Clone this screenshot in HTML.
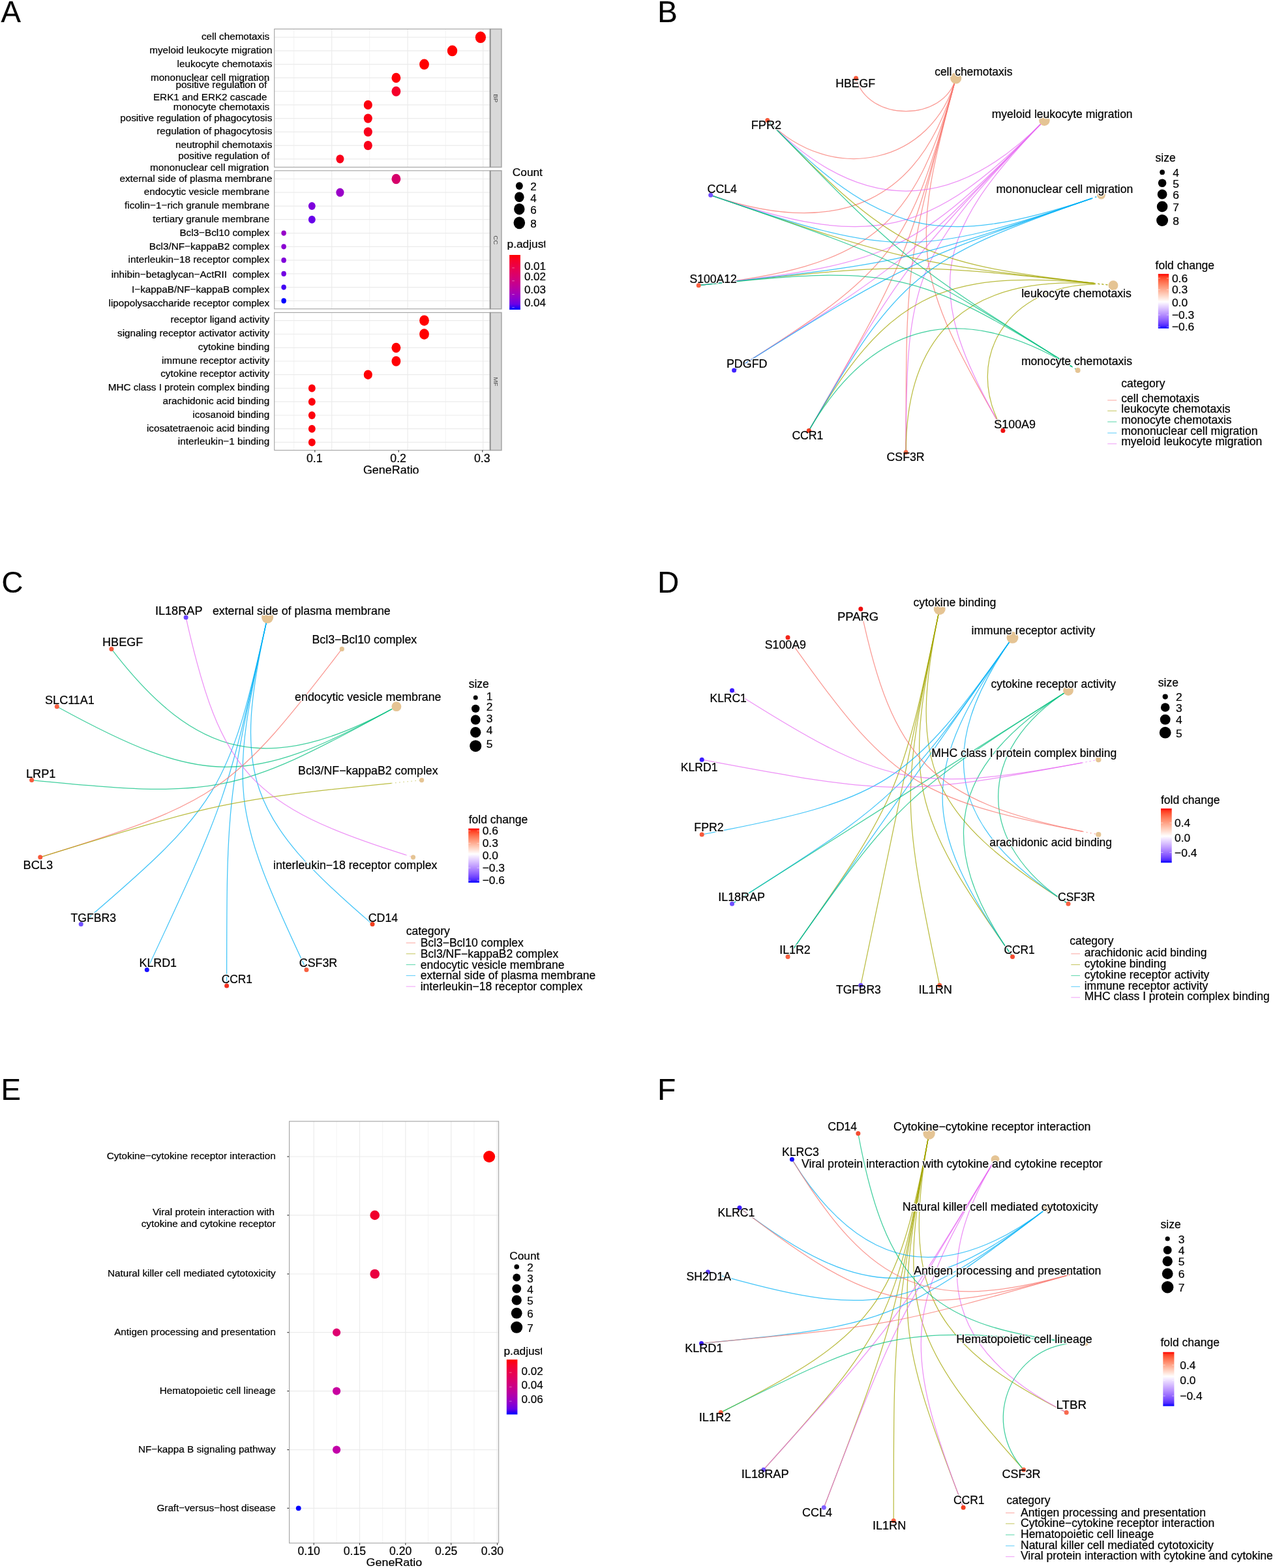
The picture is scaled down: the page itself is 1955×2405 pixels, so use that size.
<!DOCTYPE html>
<html><head><meta charset="utf-8"><title>Figure</title><style>html,body{margin:0;padding:0;background:#fff;}body{width:1955px;height:2405px;overflow:hidden;}svg{display:block;}</style></head><body>
<svg width="1955" height="2405" viewBox="0 0 1955 2405" font-family="'Liberation Sans', Arial, Helvetica, sans-serif"><style>text:not([stroke]):not([fill]){stroke:#000;stroke-width:0.22px;}</style><defs><clipPath id="clipA"><rect x="400" y="700" width="400" height="26.5"/></clipPath><clipPath id="clipE"><rect x="400" y="2380" width="400" height="25"/></clipPath><clipPath id="clipPadj1"><rect x="770" y="360" width="66.2" height="30"/></clipPath><clipPath id="clipPadj2"><rect x="765" y="2060" width="66" height="30"/></clipPath></defs><rect width="1955" height="2405" fill="#fff"/><text x="1.6" y="34.0" font-size="45.60">A</text>
<text x="1008.3" y="34.0" font-size="45.60">B</text>
<text x="2.4" y="908.8" font-size="45.60">C</text>
<text x="1008.3" y="908.8" font-size="45.60">D</text>
<text x="1.6" y="1687.4" font-size="45.60">E</text>
<text x="1008.3" y="1687.4" font-size="45.60">F</text>
<rect x="420.70" y="44.50" width="330.90" height="211.90" fill="#fff"/>
<line x1="450.70" y1="44.50" x2="450.70" y2="256.40" stroke="#f3f3f3" stroke-width="1.0"/>
<line x1="566.70" y1="44.50" x2="566.70" y2="256.40" stroke="#f3f3f3" stroke-width="1.0"/>
<line x1="683.20" y1="44.50" x2="683.20" y2="256.40" stroke="#f3f3f3" stroke-width="1.0"/>
<line x1="508.70" y1="44.50" x2="508.70" y2="256.40" stroke="#ebebeb" stroke-width="1.2"/>
<line x1="625.10" y1="44.50" x2="625.10" y2="256.40" stroke="#ebebeb" stroke-width="1.2"/>
<line x1="740.70" y1="44.50" x2="740.70" y2="256.40" stroke="#ebebeb" stroke-width="1.2"/>
<line x1="420.70" y1="57.20" x2="751.60" y2="57.20" stroke="#ebebeb" stroke-width="1.2"/>
<line x1="420.70" y1="77.90" x2="751.60" y2="77.90" stroke="#ebebeb" stroke-width="1.2"/>
<line x1="420.70" y1="98.70" x2="751.60" y2="98.70" stroke="#ebebeb" stroke-width="1.2"/>
<line x1="420.70" y1="119.40" x2="751.60" y2="119.40" stroke="#ebebeb" stroke-width="1.2"/>
<line x1="420.70" y1="140.10" x2="751.60" y2="140.10" stroke="#ebebeb" stroke-width="1.2"/>
<line x1="420.70" y1="160.90" x2="751.60" y2="160.90" stroke="#ebebeb" stroke-width="1.2"/>
<line x1="420.70" y1="181.60" x2="751.60" y2="181.60" stroke="#ebebeb" stroke-width="1.2"/>
<line x1="420.70" y1="202.40" x2="751.60" y2="202.40" stroke="#ebebeb" stroke-width="1.2"/>
<line x1="420.70" y1="223.10" x2="751.60" y2="223.10" stroke="#ebebeb" stroke-width="1.2"/>
<line x1="420.70" y1="243.80" x2="751.60" y2="243.80" stroke="#ebebeb" stroke-width="1.2"/>
<ellipse cx="736.9" cy="57.2" rx="8.10" ry="8.91" fill="#ff0000"/>
<ellipse cx="693.5" cy="77.9" rx="7.70" ry="8.47" fill="#ff0000"/>
<ellipse cx="650.5" cy="98.7" rx="7.40" ry="8.14" fill="#ff0000"/>
<ellipse cx="607.4" cy="119.4" rx="6.95" ry="7.65" fill="#ff0008"/>
<ellipse cx="607.4" cy="140.1" rx="6.95" ry="7.65" fill="#f5002a"/>
<ellipse cx="564.3" cy="160.9" rx="6.55" ry="7.21" fill="#fb000e"/>
<ellipse cx="564.3" cy="181.6" rx="6.55" ry="7.21" fill="#fb0012"/>
<ellipse cx="564.3" cy="202.4" rx="6.55" ry="7.21" fill="#f8001c"/>
<ellipse cx="564.3" cy="223.1" rx="6.55" ry="7.21" fill="#f9001a"/>
<ellipse cx="521.4" cy="243.8" rx="6.05" ry="6.66" fill="#f9001a"/>
<rect x="420.70" y="44.50" width="330.90" height="211.90" fill="none" stroke="#a3a3a3" stroke-width="1.1"/>
<rect x="751.60" y="44.50" width="17.30" height="211.90" fill="#d9d9d9" stroke="#a8a8a8" stroke-width="1.6"/>
<line x1="751.60" y1="44.50" x2="751.60" y2="256.40" stroke="#8a8a8a" stroke-width="1.6"/>
<text x="0" y="0" font-size="9.7" fill="#4d4d4d" text-anchor="middle" transform="translate(757.1,150.8) rotate(90)">BP</text>
<rect x="420.70" y="261.80" width="330.90" height="212.00" fill="#fff"/>
<line x1="450.70" y1="261.80" x2="450.70" y2="473.80" stroke="#f3f3f3" stroke-width="1.0"/>
<line x1="566.70" y1="261.80" x2="566.70" y2="473.80" stroke="#f3f3f3" stroke-width="1.0"/>
<line x1="683.20" y1="261.80" x2="683.20" y2="473.80" stroke="#f3f3f3" stroke-width="1.0"/>
<line x1="508.70" y1="261.80" x2="508.70" y2="473.80" stroke="#ebebeb" stroke-width="1.2"/>
<line x1="625.10" y1="261.80" x2="625.10" y2="473.80" stroke="#ebebeb" stroke-width="1.2"/>
<line x1="740.70" y1="261.80" x2="740.70" y2="473.80" stroke="#ebebeb" stroke-width="1.2"/>
<line x1="420.70" y1="274.50" x2="751.60" y2="274.50" stroke="#ebebeb" stroke-width="1.2"/>
<line x1="420.70" y1="295.20" x2="751.60" y2="295.20" stroke="#ebebeb" stroke-width="1.2"/>
<line x1="420.70" y1="316.10" x2="751.60" y2="316.10" stroke="#ebebeb" stroke-width="1.2"/>
<line x1="420.70" y1="336.70" x2="751.60" y2="336.70" stroke="#ebebeb" stroke-width="1.2"/>
<line x1="420.70" y1="357.60" x2="751.60" y2="357.60" stroke="#ebebeb" stroke-width="1.2"/>
<line x1="420.70" y1="378.30" x2="751.60" y2="378.30" stroke="#ebebeb" stroke-width="1.2"/>
<line x1="420.70" y1="399.20" x2="751.60" y2="399.20" stroke="#ebebeb" stroke-width="1.2"/>
<line x1="420.70" y1="419.90" x2="751.60" y2="419.90" stroke="#ebebeb" stroke-width="1.2"/>
<line x1="420.70" y1="440.60" x2="751.60" y2="440.60" stroke="#ebebeb" stroke-width="1.2"/>
<line x1="420.70" y1="461.40" x2="751.60" y2="461.40" stroke="#ebebeb" stroke-width="1.2"/>
<ellipse cx="607.4" cy="274.5" rx="6.95" ry="7.65" fill="#d6006a"/>
<ellipse cx="521.4" cy="295.2" rx="6.05" ry="6.66" fill="#9a00c8"/>
<ellipse cx="478.3" cy="316.1" rx="5.45" ry="6.00" fill="#7e00dc"/>
<ellipse cx="478.3" cy="336.7" rx="5.45" ry="6.00" fill="#6800ea"/>
<ellipse cx="435.1" cy="357.6" rx="3.75" ry="4.12" fill="#9600c8"/>
<ellipse cx="435.1" cy="378.3" rx="3.75" ry="4.12" fill="#8a00d2"/>
<ellipse cx="435.1" cy="399.2" rx="3.75" ry="4.12" fill="#8000da"/>
<ellipse cx="435.1" cy="419.9" rx="3.75" ry="4.12" fill="#7200e2"/>
<ellipse cx="435.1" cy="440.6" rx="3.75" ry="4.12" fill="#4200f4"/>
<ellipse cx="435.1" cy="461.4" rx="3.75" ry="4.12" fill="#0000ff"/>
<rect x="420.70" y="261.80" width="330.90" height="212.00" fill="none" stroke="#a3a3a3" stroke-width="1.1"/>
<rect x="751.60" y="261.80" width="17.30" height="212.00" fill="#d9d9d9" stroke="#a8a8a8" stroke-width="1.6"/>
<line x1="751.60" y1="261.80" x2="751.60" y2="473.80" stroke="#8a8a8a" stroke-width="1.6"/>
<text x="0" y="0" font-size="9.7" fill="#4d4d4d" text-anchor="middle" transform="translate(757.1,368.2) rotate(90)">CC</text>
<rect x="420.70" y="479.40" width="330.90" height="211.20" fill="#fff"/>
<line x1="450.70" y1="479.40" x2="450.70" y2="690.60" stroke="#f3f3f3" stroke-width="1.0"/>
<line x1="566.70" y1="479.40" x2="566.70" y2="690.60" stroke="#f3f3f3" stroke-width="1.0"/>
<line x1="683.20" y1="479.40" x2="683.20" y2="690.60" stroke="#f3f3f3" stroke-width="1.0"/>
<line x1="508.70" y1="479.40" x2="508.70" y2="690.60" stroke="#ebebeb" stroke-width="1.2"/>
<line x1="625.10" y1="479.40" x2="625.10" y2="690.60" stroke="#ebebeb" stroke-width="1.2"/>
<line x1="740.70" y1="479.40" x2="740.70" y2="690.60" stroke="#ebebeb" stroke-width="1.2"/>
<line x1="420.70" y1="491.60" x2="751.60" y2="491.60" stroke="#ebebeb" stroke-width="1.2"/>
<line x1="420.70" y1="512.50" x2="751.60" y2="512.50" stroke="#ebebeb" stroke-width="1.2"/>
<line x1="420.70" y1="533.30" x2="751.60" y2="533.30" stroke="#ebebeb" stroke-width="1.2"/>
<line x1="420.70" y1="554.00" x2="751.60" y2="554.00" stroke="#ebebeb" stroke-width="1.2"/>
<line x1="420.70" y1="574.70" x2="751.60" y2="574.70" stroke="#ebebeb" stroke-width="1.2"/>
<line x1="420.70" y1="595.50" x2="751.60" y2="595.50" stroke="#ebebeb" stroke-width="1.2"/>
<line x1="420.70" y1="616.20" x2="751.60" y2="616.20" stroke="#ebebeb" stroke-width="1.2"/>
<line x1="420.70" y1="637.00" x2="751.60" y2="637.00" stroke="#ebebeb" stroke-width="1.2"/>
<line x1="420.70" y1="657.70" x2="751.60" y2="657.70" stroke="#ebebeb" stroke-width="1.2"/>
<line x1="420.70" y1="678.40" x2="751.60" y2="678.40" stroke="#ebebeb" stroke-width="1.2"/>
<ellipse cx="650.5" cy="491.6" rx="7.40" ry="8.14" fill="#ff0000"/>
<ellipse cx="650.5" cy="512.5" rx="7.40" ry="8.14" fill="#ff0000"/>
<ellipse cx="607.4" cy="533.3" rx="6.95" ry="7.65" fill="#ff0000"/>
<ellipse cx="607.4" cy="554.0" rx="6.95" ry="7.65" fill="#ff0004"/>
<ellipse cx="564.3" cy="574.7" rx="6.55" ry="7.21" fill="#ff0004"/>
<ellipse cx="478.3" cy="595.5" rx="5.45" ry="6.00" fill="#fd000c"/>
<ellipse cx="478.3" cy="616.2" rx="5.45" ry="6.00" fill="#fd000c"/>
<ellipse cx="478.3" cy="637.0" rx="5.45" ry="6.00" fill="#fd000c"/>
<ellipse cx="478.3" cy="657.7" rx="5.45" ry="6.00" fill="#fd000c"/>
<ellipse cx="478.3" cy="678.4" rx="5.45" ry="6.00" fill="#fd000c"/>
<rect x="420.70" y="479.40" width="330.90" height="211.20" fill="none" stroke="#a3a3a3" stroke-width="1.1"/>
<rect x="751.60" y="479.40" width="17.30" height="211.20" fill="#d9d9d9" stroke="#a8a8a8" stroke-width="1.6"/>
<line x1="751.60" y1="479.40" x2="751.60" y2="690.60" stroke="#8a8a8a" stroke-width="1.6"/>
<text x="0" y="0" font-size="9.7" fill="#4d4d4d" text-anchor="middle" transform="translate(757.1,585.4) rotate(90)">MF</text>
<text x="413.2" y="61.3" font-size="15.25" text-anchor="end">cell chemotaxis</text>
<text x="417.4" y="82.0" font-size="15.25" text-anchor="end">myeloid leukocyte migration</text>
<text x="417.4" y="103.0" font-size="15.25" text-anchor="end">leukocyte chemotaxis</text>
<text x="413.2" y="123.7" font-size="15.25" text-anchor="end">mononuclear cell migration</text>
<text x="409.3" y="135.2" font-size="15.25" text-anchor="end">positive regulation of</text>
<text x="409.6" y="154.3" font-size="15.25" text-anchor="end">ERK1 and ERK2 cascade</text>
<text x="413.2" y="169.4" font-size="15.25" text-anchor="end">monocyte chemotaxis</text>
<text x="417.4" y="186.2" font-size="15.25" text-anchor="end">positive regulation of phagocytosis</text>
<text x="417.4" y="206.4" font-size="15.25" text-anchor="end">regulation of phagocytosis</text>
<text x="417.4" y="227.1" font-size="15.25" text-anchor="end">neutrophil chemotaxis</text>
<text x="413.2" y="243.7" font-size="15.25" text-anchor="end">positive regulation of</text>
<text x="412.3" y="262.4" font-size="15.25" text-anchor="end">mononuclear cell migration</text>
<text x="417.4" y="278.6" font-size="15.25" text-anchor="end">external side of plasma membrane</text>
<text x="413.2" y="299.3" font-size="15.25" text-anchor="end">endocytic vesicle membrane</text>
<text x="413.2" y="320.0" font-size="15.25" text-anchor="end">ficolin−1−rich granule membrane</text>
<text x="413.2" y="340.5" font-size="15.25" text-anchor="end">tertiary granule membrane</text>
<text x="413.2" y="361.5" font-size="15.25" text-anchor="end">Bcl3−Bcl10 complex</text>
<text x="413.2" y="382.5" font-size="15.25" text-anchor="end">Bcl3/NF−kappaB2 complex</text>
<text x="413.2" y="402.7" font-size="15.25" text-anchor="end">interleukin−18 receptor complex</text>
<text x="413.2" y="426.1" font-size="15.25" text-anchor="end">inhibin−betaglycan−ActRII  complex</text>
<text x="413.2" y="448.6" font-size="15.25" text-anchor="end">I−kappaB/NF−kappaB complex</text>
<text x="413.2" y="469.6" font-size="15.25" text-anchor="end">lipopolysaccharide receptor complex</text>
<text x="413.2" y="494.9" font-size="15.25" text-anchor="end">receptor ligand activity</text>
<text x="413.2" y="515.9" font-size="15.25" text-anchor="end">signaling receptor activator activity</text>
<text x="413.2" y="536.9" font-size="15.25" text-anchor="end">cytokine binding</text>
<text x="413.2" y="557.9" font-size="15.25" text-anchor="end">immune receptor activity</text>
<text x="413.2" y="578.1" font-size="15.25" text-anchor="end">cytokine receptor activity</text>
<text x="413.2" y="599.1" font-size="15.25" text-anchor="end">MHC class I protein complex binding</text>
<text x="413.2" y="620.1" font-size="15.25" text-anchor="end">arachidonic acid binding</text>
<text x="413.2" y="640.6" font-size="15.25" text-anchor="end">icosanoid binding</text>
<text x="413.2" y="661.6" font-size="15.25" text-anchor="end">icosatetraenoic acid binding</text>
<text x="413.2" y="682.3" font-size="15.25" text-anchor="end">interleukin−1 binding</text>
<line x1="482.80" y1="690.60" x2="482.80" y2="693.60" stroke="#333" stroke-width="1.1"/>
<text x="482.2" y="708.9" font-size="17.70" text-anchor="middle">0.1</text>
<line x1="611.20" y1="690.60" x2="611.20" y2="693.60" stroke="#333" stroke-width="1.1"/>
<text x="610.6" y="708.9" font-size="17.70" text-anchor="middle">0.2</text>
<line x1="739.80" y1="690.60" x2="739.80" y2="693.60" stroke="#333" stroke-width="1.1"/>
<text x="739.2" y="708.9" font-size="17.70" text-anchor="middle">0.3</text>
<g clip-path="url(#clipA)">
<text x="556.9" y="727.2" font-size="17.50" textLength="85.7" lengthAdjust="spacingAndGlyphs">GeneRatio</text>
</g>
<text x="785.8" y="269.8" font-size="17.30">Count</text>
<ellipse cx="796.3" cy="285.1" rx="5.50" ry="5.83" fill="#000"/>
<text x="813.3" y="292.1" font-size="17.00">2</text>
<ellipse cx="796.3" cy="302.3" rx="7.30" ry="7.74" fill="#000"/>
<text x="813.3" y="309.6" font-size="17.00">4</text>
<ellipse cx="796.3" cy="320.7" rx="8.20" ry="8.69" fill="#000"/>
<text x="813.3" y="327.8" font-size="17.00">6</text>
<ellipse cx="796.3" cy="341.8" rx="8.80" ry="9.33" fill="#000"/>
<text x="813.3" y="349.4" font-size="17.00">8</text>
<g clip-path="url(#clipPadj1)">
<text x="777.6" y="379.5" font-size="17.30">p.adjust</text>
</g>
<defs><linearGradient id="gPA" x1="0" y1="0" x2="0" y2="1"><stop offset="0.00" stop-color="#ff0000"/><stop offset="0.10" stop-color="#f6002a"/><stop offset="0.20" stop-color="#ed0044"/><stop offset="0.30" stop-color="#e3005b"/><stop offset="0.40" stop-color="#d70072"/><stop offset="0.50" stop-color="#ca0088"/><stop offset="0.60" stop-color="#ba009f"/><stop offset="0.70" stop-color="#a600b7"/><stop offset="0.80" stop-color="#8d00ce"/><stop offset="0.90" stop-color="#6800e7"/><stop offset="1.00" stop-color="#0000ff"/></linearGradient></defs>
<rect x="781.10" y="391.00" width="16.80" height="84.00" fill="url(#gPA)"/>
<line x1="785.20" y1="410.90" x2="788.80" y2="410.90" stroke="#ffffff" stroke-width="0.8" stroke-opacity="0.5"/>
<line x1="785.20" y1="430.80" x2="788.80" y2="430.80" stroke="#ffffff" stroke-width="0.8" stroke-opacity="0.5"/>
<line x1="785.20" y1="451.60" x2="788.80" y2="451.60" stroke="#ffffff" stroke-width="0.8" stroke-opacity="0.5"/>
<line x1="785.20" y1="471.50" x2="788.80" y2="471.50" stroke="#ffffff" stroke-width="0.8" stroke-opacity="0.5"/>
<text x="803.9" y="414.4" font-size="17.00">0.01</text>
<text x="803.9" y="429.6" font-size="17.00">0.02</text>
<text x="803.9" y="450.1" font-size="17.00">0.03</text>
<text x="803.9" y="470.0" font-size="17.00">0.04</text>
<rect x="443.60" y="1719.90" width="321.00" height="646.90" fill="#fff"/>
<line x1="516.10" y1="1719.90" x2="516.10" y2="2366.80" stroke="#f3f3f3" stroke-width="1.0"/>
<line x1="586.60" y1="1719.90" x2="586.60" y2="2366.80" stroke="#f3f3f3" stroke-width="1.0"/>
<line x1="656.60" y1="1719.90" x2="656.60" y2="2366.80" stroke="#f3f3f3" stroke-width="1.0"/>
<line x1="726.90" y1="1719.90" x2="726.90" y2="2366.80" stroke="#f3f3f3" stroke-width="1.0"/>
<line x1="481.20" y1="1719.90" x2="481.20" y2="2366.80" stroke="#ebebeb" stroke-width="1.2"/>
<line x1="551.50" y1="1719.90" x2="551.50" y2="2366.80" stroke="#ebebeb" stroke-width="1.2"/>
<line x1="621.80" y1="1719.90" x2="621.80" y2="2366.80" stroke="#ebebeb" stroke-width="1.2"/>
<line x1="691.70" y1="1719.90" x2="691.70" y2="2366.80" stroke="#ebebeb" stroke-width="1.2"/>
<line x1="762.50" y1="1719.90" x2="762.50" y2="2366.80" stroke="#ebebeb" stroke-width="1.2"/>
<line x1="443.60" y1="1774.00" x2="764.60" y2="1774.00" stroke="#ebebeb" stroke-width="1.2"/>
<line x1="440.30" y1="1774.00" x2="443.60" y2="1774.00" stroke="#333" stroke-width="1.1"/>
<line x1="443.60" y1="1863.90" x2="764.60" y2="1863.90" stroke="#ebebeb" stroke-width="1.2"/>
<line x1="440.30" y1="1863.90" x2="443.60" y2="1863.90" stroke="#333" stroke-width="1.1"/>
<line x1="443.60" y1="1954.00" x2="764.60" y2="1954.00" stroke="#ebebeb" stroke-width="1.2"/>
<line x1="440.30" y1="1954.00" x2="443.60" y2="1954.00" stroke="#333" stroke-width="1.1"/>
<line x1="443.60" y1="2043.70" x2="764.60" y2="2043.70" stroke="#ebebeb" stroke-width="1.2"/>
<line x1="440.30" y1="2043.70" x2="443.60" y2="2043.70" stroke="#333" stroke-width="1.1"/>
<line x1="443.60" y1="2133.60" x2="764.60" y2="2133.60" stroke="#ebebeb" stroke-width="1.2"/>
<line x1="440.30" y1="2133.60" x2="443.60" y2="2133.60" stroke="#333" stroke-width="1.1"/>
<line x1="443.60" y1="2223.60" x2="764.60" y2="2223.60" stroke="#ebebeb" stroke-width="1.2"/>
<line x1="440.30" y1="2223.60" x2="443.60" y2="2223.60" stroke="#333" stroke-width="1.1"/>
<line x1="443.60" y1="2313.30" x2="764.60" y2="2313.30" stroke="#ebebeb" stroke-width="1.2"/>
<line x1="440.30" y1="2313.30" x2="443.60" y2="2313.30" stroke="#333" stroke-width="1.1"/>
<circle cx="750.1" cy="1774.0" r="9.00" fill="#ff0000"/>
<circle cx="574.7" cy="1863.9" r="7.30" fill="#f0002c"/>
<circle cx="574.7" cy="1954.0" r="7.30" fill="#ea0040"/>
<circle cx="516.1" cy="2043.7" r="6.10" fill="#de0070"/>
<circle cx="516.1" cy="2133.6" r="6.10" fill="#c800a0"/>
<circle cx="516.1" cy="2223.6" r="6.10" fill="#c200a8"/>
<circle cx="457.7" cy="2313.3" r="3.90" fill="#0000ff"/>
<rect x="443.60" y="1719.90" width="321.00" height="646.90" fill="none" stroke="#a3a3a3" stroke-width="1.1"/>
<text x="422.7" y="1778.0" font-size="15.25" text-anchor="end">Cytokine−cytokine receptor interaction</text>
<text x="421.0" y="1864.0" font-size="15.25" text-anchor="end">Viral protein interaction with</text>
<text x="422.7" y="1882.2" font-size="15.25" text-anchor="end">cytokine and cytokine receptor</text>
<text x="422.7" y="1958.3" font-size="15.25" text-anchor="end">Natural killer cell mediated cytotoxicity</text>
<text x="422.7" y="2048.0" font-size="15.25" text-anchor="end">Antigen processing and presentation</text>
<text x="422.7" y="2137.9" font-size="15.25" text-anchor="end">Hematopoietic cell lineage</text>
<text x="422.7" y="2227.9" font-size="15.25" text-anchor="end">NF−kappa B signaling pathway</text>
<text x="422.7" y="2317.6" font-size="15.25" text-anchor="end">Graft−versus−host disease</text>
<line x1="481.20" y1="2366.80" x2="481.20" y2="2369.80" stroke="#333" stroke-width="1.1"/>
<text x="473.6" y="2385.3" font-size="17.60" text-anchor="middle">0.10</text>
<line x1="551.50" y1="2366.80" x2="551.50" y2="2369.80" stroke="#333" stroke-width="1.1"/>
<text x="543.9" y="2385.3" font-size="17.60" text-anchor="middle">0.15</text>
<line x1="621.80" y1="2366.80" x2="621.80" y2="2369.80" stroke="#333" stroke-width="1.1"/>
<text x="614.2" y="2385.3" font-size="17.60" text-anchor="middle">0.20</text>
<line x1="691.70" y1="2366.80" x2="691.70" y2="2369.80" stroke="#333" stroke-width="1.1"/>
<text x="684.1" y="2385.3" font-size="17.60" text-anchor="middle">0.25</text>
<line x1="762.50" y1="2366.80" x2="762.50" y2="2369.80" stroke="#333" stroke-width="1.1"/>
<text x="754.9" y="2385.3" font-size="17.60" text-anchor="middle">0.30</text>
<text x="561.6" y="2401.8" font-size="17.30" textLength="85.5" lengthAdjust="spacingAndGlyphs">GeneRatio</text>
<text x="781.2" y="1931.7" font-size="17.30">Count</text>
<circle cx="792.2" cy="1943.0" r="3.80" fill="#000"/>
<text x="808.3" y="1950.0" font-size="17.00">2</text>
<circle cx="792.2" cy="1959.5" r="5.90" fill="#000"/>
<text x="808.3" y="1966.7" font-size="17.00">3</text>
<circle cx="792.2" cy="1976.6" r="6.90" fill="#000"/>
<text x="808.3" y="1983.8" font-size="17.00">4</text>
<circle cx="792.2" cy="1994.2" r="7.60" fill="#000"/>
<text x="808.3" y="2001.4" font-size="17.00">5</text>
<circle cx="792.2" cy="2014.2" r="8.40" fill="#000"/>
<text x="808.3" y="2021.4" font-size="17.00">6</text>
<circle cx="792.2" cy="2035.8" r="9.00" fill="#000"/>
<text x="808.3" y="2043.0" font-size="17.00">7</text>
<g clip-path="url(#clipPadj2)">
<text x="772.5" y="2077.8" font-size="17.30">p.adjust</text>
</g>
<defs><linearGradient id="gPE" x1="0" y1="0" x2="0" y2="1"><stop offset="0.00" stop-color="#ff0000"/><stop offset="0.10" stop-color="#f6002a"/><stop offset="0.20" stop-color="#ed0044"/><stop offset="0.30" stop-color="#e3005b"/><stop offset="0.40" stop-color="#d70072"/><stop offset="0.50" stop-color="#ca0088"/><stop offset="0.60" stop-color="#ba009f"/><stop offset="0.70" stop-color="#a600b7"/><stop offset="0.80" stop-color="#8d00ce"/><stop offset="0.90" stop-color="#6800e7"/><stop offset="1.00" stop-color="#0000ff"/></linearGradient></defs>
<rect x="776.80" y="2085.30" width="16.60" height="84.20" fill="url(#gPE)"/>
<text x="799.5" y="2109.0" font-size="17.00">0.02</text>
<text x="799.5" y="2130.3" font-size="17.00">0.04</text>
<text x="799.5" y="2152.0" font-size="17.00">0.06</text>
<line x1="780.80" y1="2105.20" x2="784.60" y2="2105.20" stroke="#ffffff" stroke-width="0.8" stroke-opacity="0.5"/>
<line x1="780.80" y1="2127.30" x2="784.60" y2="2127.30" stroke="#ffffff" stroke-width="0.8" stroke-opacity="0.5"/>
<line x1="780.80" y1="2149.20" x2="784.60" y2="2149.20" stroke="#ffffff" stroke-width="0.8" stroke-opacity="0.5"/>
<path d="M1312.5,119.9 C1330.8,187.5 1447.4,187.5 1465.7,119.9" stroke="#F8766D" stroke-opacity="0.75" stroke-width="1.25" fill="none"/>
<path d="M1176.8,184.6 C1275.4,285.9 1430.1,251.3 1465.7,119.9" stroke="#F8766D" stroke-opacity="0.75" stroke-width="1.25" fill="none"/>
<path d="M1089.7,299.3 C1288.2,367.8 1414.9,307.4 1465.7,119.9" stroke="#F8766D" stroke-opacity="0.75" stroke-width="1.25" fill="none"/>
<path d="M1071.2,437.7 C1332.8,408.8 1402.7,352.6 1465.7,119.9" stroke="#F8766D" stroke-opacity="0.75" stroke-width="1.25" fill="none"/>
<path d="M1125.6,568.0 C1372.0,413.3 1394.1,384.2 1465.7,119.9" stroke="#F8766D" stroke-opacity="0.75" stroke-width="1.25" fill="none"/>
<path d="M1240.3,660.4 C1388.0,404.5 1389.7,400.5 1465.7,119.9" stroke="#F8766D" stroke-opacity="0.75" stroke-width="1.25" fill="none"/>
<path d="M1389.1,693.8 C1389.1,404.7 1389.7,400.5 1465.7,119.9" stroke="#F8766D" stroke-opacity="0.75" stroke-width="1.25" fill="none"/>
<path d="M1537.9,660.4 C1398.8,419.4 1394.1,384.2 1465.7,119.9" stroke="#F8766D" stroke-opacity="0.75" stroke-width="1.25" fill="none"/>
<path d="M1176.8,184.6 C1317.6,329.2 1460.6,329.2 1601.4,184.6" stroke="#E76BF3" stroke-opacity="0.75" stroke-width="1.25" fill="none"/>
<path d="M1089.7,299.3 C1336.1,384.3 1426.7,364.0 1601.4,184.6" stroke="#E76BF3" stroke-opacity="0.75" stroke-width="1.25" fill="none"/>
<path d="M1071.2,437.7 C1368.4,404.9 1402.9,388.4 1601.4,184.6" stroke="#E76BF3" stroke-opacity="0.75" stroke-width="1.25" fill="none"/>
<path d="M1125.6,568.0 C1387.2,403.8 1390.6,401.0 1601.4,184.6" stroke="#E76BF3" stroke-opacity="0.75" stroke-width="1.25" fill="none"/>
<path d="M1240.3,660.4 C1388.0,404.5 1390.6,401.0 1601.4,184.6" stroke="#E76BF3" stroke-opacity="0.75" stroke-width="1.25" fill="none"/>
<path d="M1389.1,693.8 C1389.1,421.5 1402.9,388.4 1601.4,184.6" stroke="#E76BF3" stroke-opacity="0.75" stroke-width="1.25" fill="none"/>
<path d="M1537.9,660.4 C1415.4,448.2 1426.7,364.0 1601.4,184.6" stroke="#E76BF3" stroke-opacity="0.75" stroke-width="1.25" fill="none"/>
<path d="M1176.8,184.6 C1368.8,381.8 1407.3,403.6 1678.8,434.5" stroke="#A3A500" stroke-opacity="0.75" stroke-width="1.25" fill="none"/>
<path d="M1678.8,434.5 C1687.9,435.6 1697.3,436.6 1707.0,437.7" stroke="#A3A500" stroke-opacity="0.45" stroke-width="1.25" stroke-dasharray="1.6 4.5" fill="none"/>
<path d="M1089.7,299.3 C1377.3,398.5 1390.8,402.7 1677.2,434.4" stroke="#A3A500" stroke-opacity="0.75" stroke-width="1.25" fill="none"/>
<path d="M1677.2,434.4 C1686.8,435.5 1696.7,436.6 1707.0,437.7" stroke="#A3A500" stroke-opacity="0.45" stroke-width="1.25" stroke-dasharray="1.6 4.5" fill="none"/>
<path d="M1071.2,437.7 C1376.5,404.0 1390.8,402.9 1677.2,434.4" stroke="#A3A500" stroke-opacity="0.75" stroke-width="1.25" fill="none"/>
<path d="M1677.2,434.4 C1686.8,435.5 1696.7,436.6 1707.0,437.7" stroke="#A3A500" stroke-opacity="0.45" stroke-width="1.25" stroke-dasharray="1.6 4.5" fill="none"/>
<path d="M1240.3,660.4 C1358.2,456.2 1439.1,412.0 1678.3,434.7" stroke="#A3A500" stroke-opacity="0.75" stroke-width="1.25" fill="none"/>
<path d="M1678.3,434.7 C1687.6,435.6 1697.2,436.6 1707.0,437.7" stroke="#A3A500" stroke-opacity="0.45" stroke-width="1.25" stroke-dasharray="1.6 4.5" fill="none"/>
<path d="M1389.1,693.8 C1389.1,509.9 1486.3,422.9 1677.6,435.1" stroke="#A3A500" stroke-opacity="0.75" stroke-width="1.25" fill="none"/>
<path d="M1677.6,435.1 C1687.2,435.7 1697.0,436.6 1707.0,437.7" stroke="#A3A500" stroke-opacity="0.45" stroke-width="1.25" stroke-dasharray="1.6 4.5" fill="none"/>
<path d="M1537.9,660.4 C1473.2,548.4 1548.2,436.9 1678.9,436.2" stroke="#A3A500" stroke-opacity="0.75" stroke-width="1.25" fill="none"/>
<path d="M1678.9,436.2 C1688.0,436.2 1697.4,436.6 1707.0,437.7" stroke="#A3A500" stroke-opacity="0.45" stroke-width="1.25" stroke-dasharray="1.6 4.5" fill="none"/>
<path d="M1176.8,184.6 C1348.0,360.4 1438.4,383.4 1673.9,304.3" stroke="#00B0F6" stroke-opacity="0.75" stroke-width="1.25" fill="none"/>
<path d="M1673.9,304.3 C1678.7,302.7 1683.6,301.0 1688.5,299.3" stroke="#00B0F6" stroke-opacity="0.45" stroke-width="1.25" stroke-dasharray="1.6 4.5" fill="none"/>
<path d="M1089.7,299.3 C1364.7,394.2 1407.1,395.9 1674.0,304.3" stroke="#00B0F6" stroke-opacity="0.75" stroke-width="1.25" fill="none"/>
<path d="M1674.0,304.3 C1678.8,302.7 1683.6,301.0 1688.5,299.3" stroke="#00B0F6" stroke-opacity="0.45" stroke-width="1.25" stroke-dasharray="1.6 4.5" fill="none"/>
<path d="M1071.2,437.7 C1381.3,403.5 1391.0,401.9 1673.2,304.6" stroke="#00B0F6" stroke-opacity="0.75" stroke-width="1.25" fill="none"/>
<path d="M1673.2,304.6 C1678.2,302.9 1683.3,301.1 1688.5,299.3" stroke="#00B0F6" stroke-opacity="0.45" stroke-width="1.25" stroke-dasharray="1.6 4.5" fill="none"/>
<path d="M1125.6,568.0 C1382.6,406.7 1391.1,402.0 1673.2,304.6" stroke="#00B0F6" stroke-opacity="0.75" stroke-width="1.25" fill="none"/>
<path d="M1673.2,304.6 C1678.2,302.9 1683.3,301.1 1688.5,299.3" stroke="#00B0F6" stroke-opacity="0.45" stroke-width="1.25" stroke-dasharray="1.6 4.5" fill="none"/>
<path d="M1240.3,660.4 C1377.0,423.6 1407.5,396.8 1674.0,304.3" stroke="#00B0F6" stroke-opacity="0.75" stroke-width="1.25" fill="none"/>
<path d="M1674.0,304.3 C1678.8,302.7 1683.6,301.0 1688.5,299.3" stroke="#00B0F6" stroke-opacity="0.45" stroke-width="1.25" stroke-dasharray="1.6 4.5" fill="none"/>
<path d="M1176.8,184.6 C1384.9,398.3 1390.9,403.7 1642.9,561.9" stroke="#00BF7D" stroke-opacity="0.75" stroke-width="1.25" fill="none"/>
<path d="M1642.9,561.9 C1646.1,563.9 1649.3,566.0 1652.6,568.0" stroke="#00BF7D" stroke-opacity="0.45" stroke-width="1.25" stroke-dasharray="1.6 4.5" fill="none"/>
<path d="M1089.7,299.3 C1383.2,400.6 1390.9,403.7 1642.9,561.9" stroke="#00BF7D" stroke-opacity="0.75" stroke-width="1.25" fill="none"/>
<path d="M1642.9,561.9 C1646.1,563.9 1649.3,566.0 1652.6,568.0" stroke="#00BF7D" stroke-opacity="0.45" stroke-width="1.25" stroke-dasharray="1.6 4.5" fill="none"/>
<path d="M1071.2,437.7 C1364.7,405.3 1405.2,413.1 1643.5,562.3" stroke="#00BF7D" stroke-opacity="0.75" stroke-width="1.25" fill="none"/>
<path d="M1643.5,562.3 C1646.5,564.2 1649.5,566.1 1652.6,568.0" stroke="#00BF7D" stroke-opacity="0.45" stroke-width="1.25" stroke-dasharray="1.6 4.5" fill="none"/>
<path d="M1240.3,660.4 C1337.2,492.5 1473.0,459.5 1643.5,562.4" stroke="#00BF7D" stroke-opacity="0.75" stroke-width="1.25" fill="none"/>
<path d="M1643.5,562.4 C1646.5,564.2 1649.6,566.1 1652.6,568.0" stroke="#00BF7D" stroke-opacity="0.45" stroke-width="1.25" stroke-dasharray="1.6 4.5" fill="none"/>
<circle cx="1465.7" cy="119.9" r="8.60" fill="#E5C494"/>
<circle cx="1707.0" cy="437.7" r="7.40" fill="#E5C494"/>
<circle cx="1652.6" cy="568.0" r="4.00" fill="#E5C494"/>
<circle cx="1688.5" cy="299.3" r="6.30" fill="#E5C494"/>
<circle cx="1601.4" cy="184.6" r="8.30" fill="#E5C494"/>
<text x="1281.3" y="133.6" font-size="17.50" textLength="60.8" lengthAdjust="spacingAndGlyphs" fill="#fff" stroke="#fff" stroke-width="2.6" stroke-linejoin="round">HBEGF</text>
<text x="1433.2" y="115.5" font-size="17.50" textLength="119.2" lengthAdjust="spacingAndGlyphs" fill="#fff" stroke="#fff" stroke-width="2.6" stroke-linejoin="round">cell chemotaxis</text>
<text x="1151.8" y="198.1" font-size="17.50" textLength="46.3" lengthAdjust="spacingAndGlyphs" fill="#fff" stroke="#fff" stroke-width="2.6" stroke-linejoin="round">FPR2</text>
<text x="1520.8" y="180.8" font-size="17.50" textLength="215.8" lengthAdjust="spacingAndGlyphs" fill="#fff" stroke="#fff" stroke-width="2.6" stroke-linejoin="round">myeloid leukocyte migration</text>
<text x="1084.6" y="295.7" font-size="17.50" textLength="45.3" lengthAdjust="spacingAndGlyphs" fill="#fff" stroke="#fff" stroke-width="2.6" stroke-linejoin="round">CCL4</text>
<text x="1527.5" y="295.7" font-size="17.50" textLength="209.8" lengthAdjust="spacingAndGlyphs" fill="#fff" stroke="#fff" stroke-width="2.6" stroke-linejoin="round">mononuclear cell migration</text>
<text x="1057.4" y="433.6" font-size="17.50" textLength="72.4" lengthAdjust="spacingAndGlyphs" fill="#fff" stroke="#fff" stroke-width="2.6" stroke-linejoin="round">S100A12</text>
<text x="1566.2" y="455.8" font-size="17.50" textLength="168.6" lengthAdjust="spacingAndGlyphs" fill="#fff" stroke="#fff" stroke-width="2.6" stroke-linejoin="round">leukocyte chemotaxis</text>
<text x="1113.9" y="563.9" font-size="17.50" textLength="62.6" lengthAdjust="spacingAndGlyphs" fill="#fff" stroke="#fff" stroke-width="2.6" stroke-linejoin="round">PDGFD</text>
<text x="1565.9" y="559.8" font-size="17.50" textLength="170.1" lengthAdjust="spacingAndGlyphs" fill="#fff" stroke="#fff" stroke-width="2.6" stroke-linejoin="round">monocyte chemotaxis</text>
<text x="1214.4" y="673.5" font-size="17.50" textLength="48.0" lengthAdjust="spacingAndGlyphs" fill="#fff" stroke="#fff" stroke-width="2.6" stroke-linejoin="round">CCR1</text>
<text x="1524.3" y="656.6" font-size="17.50" textLength="63.7" lengthAdjust="spacingAndGlyphs" fill="#fff" stroke="#fff" stroke-width="2.6" stroke-linejoin="round">S100A9</text>
<text x="1359.6" y="707.0" font-size="17.50" textLength="58.0" lengthAdjust="spacingAndGlyphs" fill="#fff" stroke="#fff" stroke-width="2.6" stroke-linejoin="round">CSF3R</text>
<circle cx="1312.5" cy="119.9" r="3.50" fill="#f65a3c"/>
<circle cx="1176.8" cy="184.6" r="3.50" fill="#f4583a"/>
<circle cx="1089.7" cy="299.3" r="3.50" fill="#7350ff"/>
<circle cx="1071.2" cy="437.7" r="3.50" fill="#fa6040"/>
<circle cx="1125.6" cy="568.0" r="3.50" fill="#3f22ff"/>
<circle cx="1240.3" cy="660.4" r="3.50" fill="#f03c22"/>
<circle cx="1389.1" cy="693.8" r="3.50" fill="#fa6a48"/>
<circle cx="1537.9" cy="660.4" r="3.50" fill="#f01010"/>
<text x="1281.3" y="133.6" font-size="17.50" textLength="60.8" lengthAdjust="spacingAndGlyphs">HBEGF</text>
<text x="1433.2" y="115.5" font-size="17.50" textLength="119.2" lengthAdjust="spacingAndGlyphs">cell chemotaxis</text>
<text x="1151.8" y="198.1" font-size="17.50" textLength="46.3" lengthAdjust="spacingAndGlyphs">FPR2</text>
<text x="1520.8" y="180.8" font-size="17.50" textLength="215.8" lengthAdjust="spacingAndGlyphs">myeloid leukocyte migration</text>
<text x="1084.6" y="295.7" font-size="17.50" textLength="45.3" lengthAdjust="spacingAndGlyphs">CCL4</text>
<text x="1527.5" y="295.7" font-size="17.50" textLength="209.8" lengthAdjust="spacingAndGlyphs">mononuclear cell migration</text>
<text x="1057.4" y="433.6" font-size="17.50" textLength="72.4" lengthAdjust="spacingAndGlyphs">S100A12</text>
<text x="1566.2" y="455.8" font-size="17.50" textLength="168.6" lengthAdjust="spacingAndGlyphs">leukocyte chemotaxis</text>
<text x="1113.9" y="563.9" font-size="17.50" textLength="62.6" lengthAdjust="spacingAndGlyphs">PDGFD</text>
<text x="1565.9" y="559.8" font-size="17.50" textLength="170.1" lengthAdjust="spacingAndGlyphs">monocyte chemotaxis</text>
<text x="1214.4" y="673.5" font-size="17.50" textLength="48.0" lengthAdjust="spacingAndGlyphs">CCR1</text>
<text x="1524.3" y="656.6" font-size="17.50" textLength="63.7" lengthAdjust="spacingAndGlyphs">S100A9</text>
<text x="1359.6" y="707.0" font-size="17.50" textLength="58.0" lengthAdjust="spacingAndGlyphs">CSF3R</text>
<path d="M124.2,1417.6 C336.7,1235.9 350.7,1212.8 410.1,947.1" stroke="#00B0F6" stroke-opacity="0.75" stroke-width="1.25" fill="none"/>
<path d="M225.3,1487.4 C346.9,1227.9 347.9,1225.0 410.1,947.1" stroke="#00B0F6" stroke-opacity="0.75" stroke-width="1.25" fill="none"/>
<path d="M347.6,1512.1 C347.6,1228.1 347.9,1225.0 410.1,947.1" stroke="#00B0F6" stroke-opacity="0.75" stroke-width="1.25" fill="none"/>
<path d="M469.9,1487.4 C353.6,1239.3 350.7,1212.8 410.1,947.1" stroke="#00B0F6" stroke-opacity="0.75" stroke-width="1.25" fill="none"/>
<path d="M571.0,1417.6 C377.5,1252.1 356.0,1189.1 410.1,947.1" stroke="#00B0F6" stroke-opacity="0.75" stroke-width="1.25" fill="none"/>
<path d="M170.9,995.4 C300.6,1165.0 411.7,1189.2 600.7,1087.6" stroke="#00BF7D" stroke-opacity="0.75" stroke-width="1.25" fill="none"/>
<path d="M600.7,1087.6 C603.1,1086.3 605.5,1085.0 607.9,1083.7" stroke="#00BF7D" stroke-opacity="0.45" stroke-width="1.25" stroke-dasharray="1.6 4.5" fill="none"/>
<path d="M87.3,1083.7 C309.9,1205.8 380.7,1207.3 599.5,1088.3" stroke="#00BF7D" stroke-opacity="0.75" stroke-width="1.25" fill="none"/>
<path d="M599.5,1088.3 C602.3,1086.8 605.1,1085.2 607.9,1083.7" stroke="#00BF7D" stroke-opacity="0.45" stroke-width="1.25" stroke-dasharray="1.6 4.5" fill="none"/>
<path d="M48.6,1196.6 C330.1,1224.8 359.8,1219.6 600.6,1087.7" stroke="#00BF7D" stroke-opacity="0.75" stroke-width="1.25" fill="none"/>
<path d="M600.6,1087.7 C603.0,1086.4 605.5,1085.1 607.9,1083.7" stroke="#00BF7D" stroke-opacity="0.45" stroke-width="1.25" stroke-dasharray="1.6 4.5" fill="none"/>
<path d="M61.7,1314.8 C333.6,1230.8 356.2,1215.2 524.3,995.4" stroke="#F8766D" stroke-opacity="0.75" stroke-width="1.25" fill="none"/>
<path d="M61.7,1314.8 C330.4,1231.8 348.0,1226.7 600.1,1201.3" stroke="#A3A500" stroke-opacity="0.75" stroke-width="1.25" fill="none"/>
<path d="M600.1,1201.3 C614.7,1199.8 630.2,1198.3 646.6,1196.6" stroke="#A3A500" stroke-opacity="0.45" stroke-width="1.25" stroke-dasharray="1.6 4.5" fill="none"/>
<path d="M285.1,947.1 C338.4,1185.4 384.5,1236.8 622.5,1311.3" stroke="#E76BF3" stroke-opacity="0.75" stroke-width="1.25" fill="none"/>
<path d="M622.5,1311.3 C626.1,1312.5 629.8,1313.6 633.5,1314.8" stroke="#E76BF3" stroke-opacity="0.45" stroke-width="1.25" stroke-dasharray="1.6 4.5" fill="none"/>
<circle cx="524.3" cy="995.4" r="3.60" fill="#E5C494"/>
<circle cx="646.6" cy="1196.6" r="3.60" fill="#E5C494"/>
<circle cx="607.9" cy="1083.7" r="7.40" fill="#E5C494"/>
<circle cx="410.1" cy="947.1" r="9.00" fill="#E5C494"/>
<circle cx="633.5" cy="1314.8" r="3.60" fill="#E5C494"/>
<text x="237.9" y="942.7" font-size="17.50" textLength="72.6" lengthAdjust="spacingAndGlyphs" fill="#fff" stroke="#fff" stroke-width="2.6" stroke-linejoin="round">IL18RAP</text>
<text x="325.9" y="942.7" font-size="17.50" textLength="272.8" lengthAdjust="spacingAndGlyphs" fill="#fff" stroke="#fff" stroke-width="2.6" stroke-linejoin="round">external side of plasma membrane</text>
<text x="157.1" y="991.1" font-size="17.50" textLength="62.1" lengthAdjust="spacingAndGlyphs" fill="#fff" stroke="#fff" stroke-width="2.6" stroke-linejoin="round">HBEGF</text>
<text x="478.4" y="987.1" font-size="17.50" textLength="160.9" lengthAdjust="spacingAndGlyphs" fill="#fff" stroke="#fff" stroke-width="2.6" stroke-linejoin="round">Bcl3−Bcl10 complex</text>
<text x="69.1" y="1079.8" font-size="17.50" textLength="75.8" lengthAdjust="spacingAndGlyphs" fill="#fff" stroke="#fff" stroke-width="2.6" stroke-linejoin="round">SLC11A1</text>
<text x="452.1" y="1075.0" font-size="17.50" textLength="224.4" lengthAdjust="spacingAndGlyphs" fill="#fff" stroke="#fff" stroke-width="2.6" stroke-linejoin="round">endocytic vesicle membrane</text>
<text x="40.0" y="1192.7" font-size="17.50" textLength="45.4" lengthAdjust="spacingAndGlyphs" fill="#fff" stroke="#fff" stroke-width="2.6" stroke-linejoin="round">LRP1</text>
<text x="457.1" y="1187.9" font-size="17.50" textLength="214.5" lengthAdjust="spacingAndGlyphs" fill="#fff" stroke="#fff" stroke-width="2.6" stroke-linejoin="round">Bcl3/NF−kappaB2 complex</text>
<text x="35.6" y="1332.7" font-size="17.50" textLength="45.5" lengthAdjust="spacingAndGlyphs" fill="#fff" stroke="#fff" stroke-width="2.6" stroke-linejoin="round">BCL3</text>
<text x="419.1" y="1332.7" font-size="17.50" textLength="251.3" lengthAdjust="spacingAndGlyphs" fill="#fff" stroke="#fff" stroke-width="2.6" stroke-linejoin="round">interleukin−18 receptor complex</text>
<text x="108.5" y="1413.7" font-size="17.50" textLength="69.5" lengthAdjust="spacingAndGlyphs" fill="#fff" stroke="#fff" stroke-width="2.6" stroke-linejoin="round">TGFBR3</text>
<text x="564.8" y="1413.7" font-size="17.50" textLength="45.4" lengthAdjust="spacingAndGlyphs" fill="#fff" stroke="#fff" stroke-width="2.6" stroke-linejoin="round">CD14</text>
<text x="213.5" y="1483.1" font-size="17.50" textLength="57.5" lengthAdjust="spacingAndGlyphs" fill="#fff" stroke="#fff" stroke-width="2.6" stroke-linejoin="round">KLRD1</text>
<text x="458.8" y="1483.1" font-size="17.50" textLength="58.4" lengthAdjust="spacingAndGlyphs" fill="#fff" stroke="#fff" stroke-width="2.6" stroke-linejoin="round">CSF3R</text>
<text x="339.8" y="1508.1" font-size="17.50" textLength="47.2" lengthAdjust="spacingAndGlyphs" fill="#fff" stroke="#fff" stroke-width="2.6" stroke-linejoin="round">CCR1</text>
<circle cx="285.1" cy="947.1" r="3.50" fill="#6a45ff"/>
<circle cx="170.9" cy="995.4" r="3.50" fill="#f65a3c"/>
<circle cx="87.3" cy="1083.7" r="3.50" fill="#f86040"/>
<circle cx="48.6" cy="1196.6" r="3.50" fill="#f65a3c"/>
<circle cx="61.7" cy="1314.8" r="3.50" fill="#f65838"/>
<circle cx="124.2" cy="1417.6" r="3.50" fill="#7050ff"/>
<circle cx="225.3" cy="1487.4" r="3.50" fill="#1a10ff"/>
<circle cx="347.6" cy="1512.1" r="3.50" fill="#f03020"/>
<circle cx="469.9" cy="1487.4" r="3.50" fill="#f86040"/>
<circle cx="571.0" cy="1417.6" r="3.50" fill="#f24020"/>
<text x="237.9" y="942.7" font-size="17.50" textLength="72.6" lengthAdjust="spacingAndGlyphs">IL18RAP</text>
<text x="325.9" y="942.7" font-size="17.50" textLength="272.8" lengthAdjust="spacingAndGlyphs">external side of plasma membrane</text>
<text x="157.1" y="991.1" font-size="17.50" textLength="62.1" lengthAdjust="spacingAndGlyphs">HBEGF</text>
<text x="478.4" y="987.1" font-size="17.50" textLength="160.9" lengthAdjust="spacingAndGlyphs">Bcl3−Bcl10 complex</text>
<text x="69.1" y="1079.8" font-size="17.50" textLength="75.8" lengthAdjust="spacingAndGlyphs">SLC11A1</text>
<text x="452.1" y="1075.0" font-size="17.50" textLength="224.4" lengthAdjust="spacingAndGlyphs">endocytic vesicle membrane</text>
<text x="40.0" y="1192.7" font-size="17.50" textLength="45.4" lengthAdjust="spacingAndGlyphs">LRP1</text>
<text x="457.1" y="1187.9" font-size="17.50" textLength="214.5" lengthAdjust="spacingAndGlyphs">Bcl3/NF−kappaB2 complex</text>
<text x="35.6" y="1332.7" font-size="17.50" textLength="45.5" lengthAdjust="spacingAndGlyphs">BCL3</text>
<text x="419.1" y="1332.7" font-size="17.50" textLength="251.3" lengthAdjust="spacingAndGlyphs">interleukin−18 receptor complex</text>
<text x="108.5" y="1413.7" font-size="17.50" textLength="69.5" lengthAdjust="spacingAndGlyphs">TGFBR3</text>
<text x="564.8" y="1413.7" font-size="17.50" textLength="45.4" lengthAdjust="spacingAndGlyphs">CD14</text>
<text x="213.5" y="1483.1" font-size="17.50" textLength="57.5" lengthAdjust="spacingAndGlyphs">KLRD1</text>
<text x="458.8" y="1483.1" font-size="17.50" textLength="58.4" lengthAdjust="spacingAndGlyphs">CSF3R</text>
<text x="339.8" y="1508.1" font-size="17.50" textLength="47.2" lengthAdjust="spacingAndGlyphs">CCR1</text>
<path d="M1208.0,1467.4 C1376.9,1227.3 1381.4,1217.1 1440.7,933.9" stroke="#A3A500" stroke-opacity="0.75" stroke-width="1.25" fill="none"/>
<path d="M1319.8,1511.3 C1380.2,1222.6 1380.2,1222.6 1440.7,933.9" stroke="#A3A500" stroke-opacity="0.75" stroke-width="1.25" fill="none"/>
<path d="M1440.7,1511.3 C1381.4,1228.1 1381.4,1217.1 1440.7,933.9" stroke="#A3A500" stroke-opacity="0.75" stroke-width="1.25" fill="none"/>
<path d="M1552.5,1467.4 C1393.4,1241.2 1384.9,1200.6 1440.7,933.9" stroke="#A3A500" stroke-opacity="0.75" stroke-width="1.25" fill="none"/>
<path d="M1638.0,1386.2 C1423.7,1250.2 1390.4,1173.9 1440.7,933.9" stroke="#A3A500" stroke-opacity="0.75" stroke-width="1.25" fill="none"/>
<path d="M1076.2,1280.0 C1357.1,1227.0 1393.4,1204.0 1552.5,977.8" stroke="#00B0F6" stroke-opacity="0.75" stroke-width="1.25" fill="none"/>
<path d="M1122.5,1386.2 C1375.3,1225.7 1383.6,1217.9 1552.5,977.8" stroke="#00B0F6" stroke-opacity="0.75" stroke-width="1.25" fill="none"/>
<path d="M1208.0,1467.4 C1380.2,1222.6 1380.2,1222.6 1552.5,977.8" stroke="#00B0F6" stroke-opacity="0.75" stroke-width="1.25" fill="none"/>
<path d="M1552.5,1467.4 C1409.3,1263.9 1409.3,1181.3 1552.5,977.8" stroke="#00B0F6" stroke-opacity="0.75" stroke-width="1.25" fill="none"/>
<path d="M1638.0,1386.2 C1455.7,1270.5 1430.7,1150.9 1552.5,977.8" stroke="#00B0F6" stroke-opacity="0.75" stroke-width="1.25" fill="none"/>
<path d="M1122.5,1386.2 C1380.2,1222.6 1380.2,1222.6 1638.0,1059.0" stroke="#00BF7D" stroke-opacity="0.75" stroke-width="1.25" fill="none"/>
<path d="M1208.0,1467.4 C1376.9,1227.3 1385.2,1219.5 1638.0,1059.0" stroke="#00BF7D" stroke-opacity="0.75" stroke-width="1.25" fill="none"/>
<path d="M1552.5,1467.4 C1430.7,1294.3 1455.7,1174.7 1638.0,1059.0" stroke="#00BF7D" stroke-opacity="0.75" stroke-width="1.25" fill="none"/>
<path d="M1638.0,1386.2 C1494.8,1295.3 1494.8,1149.9 1638.0,1059.0" stroke="#00BF7D" stroke-opacity="0.75" stroke-width="1.25" fill="none"/>
<path d="M1122.5,1059.0 C1353.5,1205.6 1400.7,1217.6 1659.6,1169.8" stroke="#E76BF3" stroke-opacity="0.75" stroke-width="1.25" fill="none"/>
<path d="M1659.6,1169.8 C1667.7,1168.3 1675.9,1166.8 1684.3,1165.2" stroke="#E76BF3" stroke-opacity="0.45" stroke-width="1.25" stroke-dasharray="1.6 4.5" fill="none"/>
<path d="M1076.2,1165.2 C1365.5,1219.8 1385.1,1221.4 1658.2,1170.1" stroke="#E76BF3" stroke-opacity="0.75" stroke-width="1.25" fill="none"/>
<path d="M1658.2,1170.1 C1666.7,1168.5 1675.3,1166.9 1684.3,1165.2" stroke="#E76BF3" stroke-opacity="0.45" stroke-width="1.25" stroke-dasharray="1.6 4.5" fill="none"/>
<path d="M1319.8,933.9 C1368.4,1166.1 1427.5,1228.3 1660.2,1275.3" stroke="#F8766D" stroke-opacity="0.75" stroke-width="1.25" fill="none"/>
<path d="M1660.2,1275.3 C1668.1,1276.9 1676.1,1278.5 1684.3,1280.0" stroke="#F8766D" stroke-opacity="0.45" stroke-width="1.25" stroke-dasharray="1.6 4.5" fill="none"/>
<path d="M1208.0,977.8 C1362.4,1197.2 1401.1,1225.4 1659.7,1275.3" stroke="#F8766D" stroke-opacity="0.75" stroke-width="1.25" fill="none"/>
<path d="M1659.7,1275.3 C1667.7,1276.9 1675.9,1278.4 1684.3,1280.0" stroke="#F8766D" stroke-opacity="0.45" stroke-width="1.25" stroke-dasharray="1.6 4.5" fill="none"/>
<circle cx="1684.3" cy="1280.0" r="4.10" fill="#E5C494"/>
<circle cx="1440.7" cy="933.9" r="9.00" fill="#E5C494"/>
<circle cx="1638.0" cy="1059.0" r="7.90" fill="#E5C494"/>
<circle cx="1552.5" cy="977.8" r="9.00" fill="#E5C494"/>
<circle cx="1684.3" cy="1165.2" r="4.10" fill="#E5C494"/>
<text x="1284.0" y="951.6" font-size="17.50" textLength="63.2" lengthAdjust="spacingAndGlyphs" fill="#fff" stroke="#fff" stroke-width="2.6" stroke-linejoin="round">PPARG</text>
<text x="1400.5" y="929.8" font-size="17.50" textLength="126.8" lengthAdjust="spacingAndGlyphs" fill="#fff" stroke="#fff" stroke-width="2.6" stroke-linejoin="round">cytokine binding</text>
<text x="1172.7" y="995.2" font-size="17.50" textLength="63.3" lengthAdjust="spacingAndGlyphs" fill="#fff" stroke="#fff" stroke-width="2.6" stroke-linejoin="round">S100A9</text>
<text x="1489.6" y="973.0" font-size="17.50" textLength="189.7" lengthAdjust="spacingAndGlyphs" fill="#fff" stroke="#fff" stroke-width="2.6" stroke-linejoin="round">immune receptor activity</text>
<text x="1088.5" y="1076.6" font-size="17.50" textLength="56.3" lengthAdjust="spacingAndGlyphs" fill="#fff" stroke="#fff" stroke-width="2.6" stroke-linejoin="round">KLRC1</text>
<text x="1519.4" y="1054.8" font-size="17.50" fill="#fff" stroke="#fff" stroke-width="2.6" stroke-linejoin="round">cytokine receptor activity</text>
<text x="1043.8" y="1182.7" font-size="17.50" textLength="56.6" lengthAdjust="spacingAndGlyphs" fill="#fff" stroke="#fff" stroke-width="2.6" stroke-linejoin="round">KLRD1</text>
<text x="1428.2" y="1161.3" font-size="17.50" fill="#fff" stroke="#fff" stroke-width="2.6" stroke-linejoin="round">MHC class I protein complex binding</text>
<text x="1064.3" y="1275.4" font-size="17.50" textLength="45.4" lengthAdjust="spacingAndGlyphs" fill="#fff" stroke="#fff" stroke-width="2.6" stroke-linejoin="round">FPR2</text>
<text x="1517.3" y="1298.4" font-size="17.50" fill="#fff" stroke="#fff" stroke-width="2.6" stroke-linejoin="round">arachidonic acid binding</text>
<text x="1101.2" y="1382.3" font-size="17.50" textLength="71.8" lengthAdjust="spacingAndGlyphs" fill="#fff" stroke="#fff" stroke-width="2.6" stroke-linejoin="round">IL18RAP</text>
<text x="1622.1" y="1382.3" font-size="17.50" textLength="57.1" lengthAdjust="spacingAndGlyphs" fill="#fff" stroke="#fff" stroke-width="2.6" stroke-linejoin="round">CSF3R</text>
<text x="1195.2" y="1462.9" font-size="17.50" textLength="47.6" lengthAdjust="spacingAndGlyphs" fill="#fff" stroke="#fff" stroke-width="2.6" stroke-linejoin="round">IL1R2</text>
<text x="1539.4" y="1462.9" font-size="17.50" textLength="47.2" lengthAdjust="spacingAndGlyphs" fill="#fff" stroke="#fff" stroke-width="2.6" stroke-linejoin="round">CCR1</text>
<text x="1282.0" y="1524.2" font-size="17.50" textLength="68.7" lengthAdjust="spacingAndGlyphs" fill="#fff" stroke="#fff" stroke-width="2.6" stroke-linejoin="round">TGFBR3</text>
<text x="1408.5" y="1524.2" font-size="17.50" textLength="51.4" lengthAdjust="spacingAndGlyphs" fill="#fff" stroke="#fff" stroke-width="2.6" stroke-linejoin="round">IL1RN</text>
<circle cx="1319.8" cy="933.9" r="3.50" fill="#ee0c0c"/>
<circle cx="1208.0" cy="977.8" r="3.50" fill="#f22418"/>
<circle cx="1122.5" cy="1059.0" r="3.50" fill="#3b1cff"/>
<circle cx="1076.2" cy="1165.2" r="3.50" fill="#3b1cff"/>
<circle cx="1076.2" cy="1280.0" r="3.50" fill="#f65a3c"/>
<circle cx="1122.5" cy="1386.2" r="3.50" fill="#7050ff"/>
<circle cx="1208.0" cy="1467.4" r="3.50" fill="#f86040"/>
<circle cx="1319.8" cy="1511.3" r="3.50" fill="#7050ff"/>
<circle cx="1440.7" cy="1511.3" r="3.50" fill="#f86040"/>
<circle cx="1552.5" cy="1467.4" r="3.50" fill="#f44c30"/>
<circle cx="1638.0" cy="1386.2" r="3.50" fill="#f86040"/>
<text x="1284.0" y="951.6" font-size="17.50" textLength="63.2" lengthAdjust="spacingAndGlyphs">PPARG</text>
<text x="1400.5" y="929.8" font-size="17.50" textLength="126.8" lengthAdjust="spacingAndGlyphs">cytokine binding</text>
<text x="1172.7" y="995.2" font-size="17.50" textLength="63.3" lengthAdjust="spacingAndGlyphs">S100A9</text>
<text x="1489.6" y="973.0" font-size="17.50" textLength="189.7" lengthAdjust="spacingAndGlyphs">immune receptor activity</text>
<text x="1088.5" y="1076.6" font-size="17.50" textLength="56.3" lengthAdjust="spacingAndGlyphs">KLRC1</text>
<text x="1519.4" y="1054.8" font-size="17.50">cytokine receptor activity</text>
<text x="1043.8" y="1182.7" font-size="17.50" textLength="56.6" lengthAdjust="spacingAndGlyphs">KLRD1</text>
<text x="1428.2" y="1161.3" font-size="17.50">MHC class I protein complex binding</text>
<text x="1064.3" y="1275.4" font-size="17.50" textLength="45.4" lengthAdjust="spacingAndGlyphs">FPR2</text>
<text x="1517.3" y="1298.4" font-size="17.50">arachidonic acid binding</text>
<text x="1101.2" y="1382.3" font-size="17.50" textLength="71.8" lengthAdjust="spacingAndGlyphs">IL18RAP</text>
<text x="1622.1" y="1382.3" font-size="17.50" textLength="57.1" lengthAdjust="spacingAndGlyphs">CSF3R</text>
<text x="1195.2" y="1462.9" font-size="17.50" textLength="47.6" lengthAdjust="spacingAndGlyphs">IL1R2</text>
<text x="1539.4" y="1462.9" font-size="17.50" textLength="47.2" lengthAdjust="spacingAndGlyphs">CCR1</text>
<text x="1282.0" y="1524.2" font-size="17.50" textLength="68.7" lengthAdjust="spacingAndGlyphs">TGFBR3</text>
<text x="1408.5" y="1524.2" font-size="17.50" textLength="51.4" lengthAdjust="spacingAndGlyphs">IL1RN</text>
<path d="M1105.2,2166.4 C1342.4,2046.9 1375.9,2002.0 1424.6,1738.5" stroke="#A3A500" stroke-opacity="0.75" stroke-width="1.25" fill="none"/>
<path d="M1170.8,2254.2 C1362.6,2041.3 1372.3,2021.7 1424.6,1738.5" stroke="#A3A500" stroke-opacity="0.75" stroke-width="1.25" fill="none"/>
<path d="M1263.3,2312.2 C1369.7,2034.1 1370.4,2031.6 1424.6,1738.5" stroke="#A3A500" stroke-opacity="0.75" stroke-width="1.25" fill="none"/>
<path d="M1370.2,2332.4 C1370.2,2034.2 1370.4,2031.6 1424.6,1738.5" stroke="#A3A500" stroke-opacity="0.75" stroke-width="1.25" fill="none"/>
<path d="M1477.1,2312.2 C1374.3,2043.6 1372.3,2021.7 1424.6,1738.5" stroke="#A3A500" stroke-opacity="0.75" stroke-width="1.25" fill="none"/>
<path d="M1569.6,2254.2 C1391.1,2056.1 1375.9,2002.0 1424.6,1738.5" stroke="#A3A500" stroke-opacity="0.75" stroke-width="1.25" fill="none"/>
<path d="M1635.2,2166.4 C1423.7,2059.9 1381.2,1973.4 1424.6,1738.5" stroke="#A3A500" stroke-opacity="0.75" stroke-width="1.25" fill="none"/>
<path d="M1170.8,2254.2 C1369.3,2033.8 1370.9,2031.8 1526.0,1778.3" stroke="#E76BF3" stroke-opacity="0.75" stroke-width="1.25" fill="none"/>
<path d="M1263.3,2312.2 C1369.7,2034.1 1370.9,2031.8 1526.0,1778.3" stroke="#E76BF3" stroke-opacity="0.75" stroke-width="1.25" fill="none"/>
<path d="M1477.1,2312.2 C1381.4,2062.2 1386.5,2006.2 1526.0,1778.3" stroke="#E76BF3" stroke-opacity="0.75" stroke-width="1.25" fill="none"/>
<path d="M1635.2,2166.4 C1456.7,2076.5 1421.0,1949.8 1526.0,1778.3" stroke="#E76BF3" stroke-opacity="0.75" stroke-width="1.25" fill="none"/>
<path d="M1214.4,1778.3 C1319.4,1949.8 1447.3,1974.0 1606.4,1852.4" stroke="#00B0F6" stroke-opacity="0.75" stroke-width="1.25" fill="none"/>
<path d="M1134.0,1852.4 C1322.5,1996.4 1417.9,1996.4 1606.4,1852.4" stroke="#00B0F6" stroke-opacity="0.75" stroke-width="1.25" fill="none"/>
<path d="M1085.5,1950.9 C1340.4,2024.3 1395.0,2014.0 1606.4,1852.4" stroke="#00B0F6" stroke-opacity="0.75" stroke-width="1.25" fill="none"/>
<path d="M1075.5,2060.5 C1358.9,2034.0 1379.2,2026.0 1606.4,1852.4" stroke="#00B0F6" stroke-opacity="0.75" stroke-width="1.25" fill="none"/>
<path d="M1214.4,1778.3 C1336.2,1977.4 1424.1,2014.9 1641.4,1954.7" stroke="#F8766D" stroke-opacity="0.75" stroke-width="1.25" fill="none"/>
<path d="M1641.4,1954.7 C1645.9,1953.5 1650.4,1952.2 1654.9,1950.9" stroke="#F8766D" stroke-opacity="0.45" stroke-width="1.25" stroke-dasharray="1.6 4.5" fill="none"/>
<path d="M1134.0,1852.4 C1341.7,2011.2 1398.1,2023.9 1641.7,1954.7" stroke="#F8766D" stroke-opacity="0.75" stroke-width="1.25" fill="none"/>
<path d="M1641.7,1954.7 C1646.0,1953.5 1650.4,1952.2 1654.9,1950.9" stroke="#F8766D" stroke-opacity="0.45" stroke-width="1.25" stroke-dasharray="1.6 4.5" fill="none"/>
<path d="M1075.5,2060.5 C1364.5,2033.4 1371.3,2032.6 1642.3,1954.6" stroke="#F8766D" stroke-opacity="0.75" stroke-width="1.25" fill="none"/>
<path d="M1642.3,1954.6 C1646.5,1953.4 1650.6,1952.2 1654.9,1950.9" stroke="#F8766D" stroke-opacity="0.45" stroke-width="1.25" stroke-dasharray="1.6 4.5" fill="none"/>
<path d="M1315.8,1738.5 C1357.3,1962.9 1423.4,2032.3 1634.2,2057.3" stroke="#00BF7D" stroke-opacity="0.75" stroke-width="1.25" fill="none"/>
<path d="M1634.2,2057.3 C1644.1,2058.5 1654.4,2059.5 1664.9,2060.5" stroke="#00BF7D" stroke-opacity="0.45" stroke-width="1.25" stroke-dasharray="1.6 4.5" fill="none"/>
<path d="M1105.2,2166.4 C1350.5,2042.8 1379.5,2034.4 1634.1,2057.7" stroke="#00BF7D" stroke-opacity="0.75" stroke-width="1.25" fill="none"/>
<path d="M1634.1,2057.7 C1644.0,2058.6 1654.3,2059.5 1664.9,2060.5" stroke="#00BF7D" stroke-opacity="0.45" stroke-width="1.25" stroke-dasharray="1.6 4.5" fill="none"/>
<path d="M1569.6,2254.2 C1504.8,2182.3 1547.6,2074.9 1634.5,2061.4" stroke="#00BF7D" stroke-opacity="0.75" stroke-width="1.25" fill="none"/>
<path d="M1634.5,2061.4 C1644.1,2059.9 1654.3,2059.5 1664.9,2060.5" stroke="#00BF7D" stroke-opacity="0.45" stroke-width="1.25" stroke-dasharray="1.6 4.5" fill="none"/>
<circle cx="1654.9" cy="1950.9" r="3.60" fill="#E5C494"/>
<circle cx="1424.6" cy="1738.5" r="9.20" fill="#E5C494"/>
<circle cx="1664.9" cy="2060.5" r="3.60" fill="#E5C494"/>
<circle cx="1606.4" cy="1852.4" r="6.40" fill="#E5C494"/>
<circle cx="1526.0" cy="1778.3" r="6.40" fill="#E5C494"/>
<text x="1269.3" y="1733.5" font-size="17.50" textLength="44.8" lengthAdjust="spacingAndGlyphs" fill="#fff" stroke="#fff" stroke-width="2.6" stroke-linejoin="round">CD14</text>
<text x="1370.1" y="1733.5" font-size="17.50" textLength="302.4" lengthAdjust="spacingAndGlyphs" fill="#fff" stroke="#fff" stroke-width="2.6" stroke-linejoin="round">Cytokine−cytokine receptor interaction</text>
<text x="1199.0" y="1773.1" font-size="17.50" textLength="56.8" lengthAdjust="spacingAndGlyphs" fill="#fff" stroke="#fff" stroke-width="2.6" stroke-linejoin="round">KLRC3</text>
<text x="1229.0" y="1791.2" font-size="17.50" textLength="461.5" lengthAdjust="spacingAndGlyphs" fill="#fff" stroke="#fff" stroke-width="2.6" stroke-linejoin="round">Viral protein interaction with cytokine and cytokine receptor</text>
<text x="1100.6" y="1865.8" font-size="17.50" textLength="56.7" lengthAdjust="spacingAndGlyphs" fill="#fff" stroke="#fff" stroke-width="2.6" stroke-linejoin="round">KLRC1</text>
<text x="1383.7" y="1856.9" font-size="17.50" textLength="299.9" lengthAdjust="spacingAndGlyphs" fill="#fff" stroke="#fff" stroke-width="2.6" stroke-linejoin="round">Natural killer cell mediated cytotoxicity</text>
<text x="1052.5" y="1963.8" font-size="17.50" textLength="68.5" lengthAdjust="spacingAndGlyphs" fill="#fff" stroke="#fff" stroke-width="2.6" stroke-linejoin="round">SH2D1A</text>
<text x="1401.2" y="1955.3" font-size="17.50" textLength="287.2" lengthAdjust="spacingAndGlyphs" fill="#fff" stroke="#fff" stroke-width="2.6" stroke-linejoin="round">Antigen processing and presentation</text>
<text x="1050.2" y="2073.5" font-size="17.50" textLength="58.3" lengthAdjust="spacingAndGlyphs" fill="#fff" stroke="#fff" stroke-width="2.6" stroke-linejoin="round">KLRD1</text>
<text x="1466.3" y="2060.2" font-size="17.50" textLength="208.5" lengthAdjust="spacingAndGlyphs" fill="#fff" stroke="#fff" stroke-width="2.6" stroke-linejoin="round">Hematopoietic cell lineage</text>
<text x="1071.7" y="2179.5" font-size="17.50" textLength="48.9" lengthAdjust="spacingAndGlyphs" fill="#fff" stroke="#fff" stroke-width="2.6" stroke-linejoin="round">IL1R2</text>
<text x="1619.5" y="2161.4" font-size="17.50" textLength="46.6" lengthAdjust="spacingAndGlyphs" fill="#fff" stroke="#fff" stroke-width="2.6" stroke-linejoin="round">LTBR</text>
<text x="1136.7" y="2267.0" font-size="17.50" textLength="73.0" lengthAdjust="spacingAndGlyphs" fill="#fff" stroke="#fff" stroke-width="2.6" stroke-linejoin="round">IL18RAP</text>
<text x="1536.6" y="2267.0" font-size="17.50" textLength="58.9" lengthAdjust="spacingAndGlyphs" fill="#fff" stroke="#fff" stroke-width="2.6" stroke-linejoin="round">CSF3R</text>
<text x="1230.1" y="2325.5" font-size="17.50" textLength="45.8" lengthAdjust="spacingAndGlyphs" fill="#fff" stroke="#fff" stroke-width="2.6" stroke-linejoin="round">CCL4</text>
<text x="1462.0" y="2307.3" font-size="17.50" textLength="47.6" lengthAdjust="spacingAndGlyphs" fill="#fff" stroke="#fff" stroke-width="2.6" stroke-linejoin="round">CCR1</text>
<text x="1337.9" y="2345.6" font-size="17.50" textLength="51.4" lengthAdjust="spacingAndGlyphs" fill="#fff" stroke="#fff" stroke-width="2.6" stroke-linejoin="round">IL1RN</text>
<circle cx="1315.8" cy="1738.5" r="3.50" fill="#f44c30"/>
<circle cx="1214.4" cy="1778.3" r="3.50" fill="#1a10ff"/>
<circle cx="1134.0" cy="1852.4" r="3.50" fill="#3b1cff"/>
<circle cx="1085.5" cy="1950.9" r="3.50" fill="#6040ff"/>
<circle cx="1075.5" cy="2060.5" r="3.50" fill="#3b1cff"/>
<circle cx="1105.2" cy="2166.4" r="3.50" fill="#f86040"/>
<circle cx="1170.8" cy="2254.2" r="3.50" fill="#7050ff"/>
<circle cx="1263.3" cy="2312.2" r="3.50" fill="#8060ff"/>
<circle cx="1370.2" cy="2332.4" r="3.50" fill="#f86040"/>
<circle cx="1477.1" cy="2312.2" r="3.50" fill="#f44020"/>
<circle cx="1569.6" cy="2254.2" r="3.50" fill="#f86040"/>
<circle cx="1635.2" cy="2166.4" r="3.50" fill="#f86a50"/>
<text x="1269.3" y="1733.5" font-size="17.50" textLength="44.8" lengthAdjust="spacingAndGlyphs">CD14</text>
<text x="1370.1" y="1733.5" font-size="17.50" textLength="302.4" lengthAdjust="spacingAndGlyphs">Cytokine−cytokine receptor interaction</text>
<text x="1199.0" y="1773.1" font-size="17.50" textLength="56.8" lengthAdjust="spacingAndGlyphs">KLRC3</text>
<text x="1229.0" y="1791.2" font-size="17.50" textLength="461.5" lengthAdjust="spacingAndGlyphs">Viral protein interaction with cytokine and cytokine receptor</text>
<text x="1100.6" y="1865.8" font-size="17.50" textLength="56.7" lengthAdjust="spacingAndGlyphs">KLRC1</text>
<text x="1383.7" y="1856.9" font-size="17.50" textLength="299.9" lengthAdjust="spacingAndGlyphs">Natural killer cell mediated cytotoxicity</text>
<text x="1052.5" y="1963.8" font-size="17.50" textLength="68.5" lengthAdjust="spacingAndGlyphs">SH2D1A</text>
<text x="1401.2" y="1955.3" font-size="17.50" textLength="287.2" lengthAdjust="spacingAndGlyphs">Antigen processing and presentation</text>
<text x="1050.2" y="2073.5" font-size="17.50" textLength="58.3" lengthAdjust="spacingAndGlyphs">KLRD1</text>
<text x="1466.3" y="2060.2" font-size="17.50" textLength="208.5" lengthAdjust="spacingAndGlyphs">Hematopoietic cell lineage</text>
<text x="1071.7" y="2179.5" font-size="17.50" textLength="48.9" lengthAdjust="spacingAndGlyphs">IL1R2</text>
<text x="1619.5" y="2161.4" font-size="17.50" textLength="46.6" lengthAdjust="spacingAndGlyphs">LTBR</text>
<text x="1136.7" y="2267.0" font-size="17.50" textLength="73.0" lengthAdjust="spacingAndGlyphs">IL18RAP</text>
<text x="1536.6" y="2267.0" font-size="17.50" textLength="58.9" lengthAdjust="spacingAndGlyphs">CSF3R</text>
<text x="1230.1" y="2325.5" font-size="17.50" textLength="45.8" lengthAdjust="spacingAndGlyphs">CCL4</text>
<text x="1462.0" y="2307.3" font-size="17.50" textLength="47.6" lengthAdjust="spacingAndGlyphs">CCR1</text>
<text x="1337.9" y="2345.6" font-size="17.50" textLength="51.4" lengthAdjust="spacingAndGlyphs">IL1RN</text>
<text x="1771.6" y="248.1" font-size="17.50">size</text>
<circle cx="1782.1" cy="264.2" r="3.90" fill="#000"/>
<text x="1798.3" y="271.3" font-size="17.40">4</text>
<circle cx="1782.1" cy="280.7" r="6.30" fill="#000"/>
<text x="1798.3" y="288.1" font-size="17.40">5</text>
<circle cx="1782.1" cy="298.0" r="7.40" fill="#000"/>
<text x="1798.3" y="305.0" font-size="17.40">6</text>
<circle cx="1782.1" cy="316.9" r="8.30" fill="#000"/>
<text x="1798.3" y="323.9" font-size="17.40">7</text>
<circle cx="1782.1" cy="338.0" r="9.00" fill="#000"/>
<text x="1798.3" y="344.7" font-size="17.40">8</text>
<text x="1771.6" y="413.1" font-size="17.50">fold change</text>
<defs><linearGradient id="gB" x1="0" y1="0" x2="0" y2="1"><stop offset="0.0000" stop-color="#ff0000"/><stop offset="0.0510" stop-color="#ff3e22"/><stop offset="0.1020" stop-color="#ff5b3a"/><stop offset="0.1530" stop-color="#ff7352"/><stop offset="0.2040" stop-color="#ff8969"/><stop offset="0.2550" stop-color="#ff9e81"/><stop offset="0.3060" stop-color="#ffb299"/><stop offset="0.3570" stop-color="#ffc6b2"/><stop offset="0.4080" stop-color="#ffd9cb"/><stop offset="0.4590" stop-color="#ffece5"/><stop offset="0.5100" stop-color="#ffffff"/><stop offset="0.5590" stop-color="#f2e7ff"/><stop offset="0.6080" stop-color="#e3d0ff"/><stop offset="0.6570" stop-color="#d4b9ff"/><stop offset="0.7060" stop-color="#c4a2ff"/><stop offset="0.7550" stop-color="#b38bff"/><stop offset="0.8040" stop-color="#a074ff"/><stop offset="0.8530" stop-color="#8a5dff"/><stop offset="0.9020" stop-color="#7145ff"/><stop offset="0.9510" stop-color="#502bff"/><stop offset="1.0000" stop-color="#0000ff"/></linearGradient></defs>
<rect x="1775.80" y="420.10" width="16.40" height="83.60" fill="url(#gB)"/>
<text x="1796.9" y="432.8" font-size="17.40">0.6</text>
<line x1="1775.80" y1="426.80" x2="1779.08" y2="426.80" stroke="#fff" stroke-width="0.8" stroke-opacity="0.6"/>
<line x1="1788.92" y1="426.80" x2="1792.20" y2="426.80" stroke="#fff" stroke-width="0.8" stroke-opacity="0.6"/>
<text x="1796.9" y="450.3" font-size="17.40">0.3</text>
<line x1="1775.80" y1="444.30" x2="1779.08" y2="444.30" stroke="#fff" stroke-width="0.8" stroke-opacity="0.6"/>
<line x1="1788.92" y1="444.30" x2="1792.20" y2="444.30" stroke="#fff" stroke-width="0.8" stroke-opacity="0.6"/>
<text x="1796.9" y="470.0" font-size="17.40">0.0</text>
<line x1="1775.80" y1="464.00" x2="1779.08" y2="464.00" stroke="#fff" stroke-width="0.8" stroke-opacity="0.6"/>
<line x1="1788.92" y1="464.00" x2="1792.20" y2="464.00" stroke="#fff" stroke-width="0.8" stroke-opacity="0.6"/>
<text x="1796.9" y="489.0" font-size="17.40">−0.3</text>
<line x1="1775.80" y1="483.00" x2="1779.08" y2="483.00" stroke="#fff" stroke-width="0.8" stroke-opacity="0.6"/>
<line x1="1788.92" y1="483.00" x2="1792.20" y2="483.00" stroke="#fff" stroke-width="0.8" stroke-opacity="0.6"/>
<text x="1796.9" y="507.2" font-size="17.40">−0.6</text>
<line x1="1775.80" y1="501.20" x2="1779.08" y2="501.20" stroke="#fff" stroke-width="0.8" stroke-opacity="0.6"/>
<line x1="1788.92" y1="501.20" x2="1792.20" y2="501.20" stroke="#fff" stroke-width="0.8" stroke-opacity="0.6"/>
<text x="1719.3" y="594.1" font-size="17.50">category</text>
<line x1="1698.20" y1="613.90" x2="1712.20" y2="613.90" stroke="#F8766D" stroke-width="1.1" stroke-opacity="0.6"/>
<text x="1719.3" y="616.7" font-size="17.50">cell chemotaxis</text>
<line x1="1698.20" y1="630.20" x2="1712.20" y2="630.20" stroke="#A3A500" stroke-width="1.1" stroke-opacity="0.6"/>
<text x="1719.3" y="633.2" font-size="17.50">leukocyte chemotaxis</text>
<line x1="1698.20" y1="647.00" x2="1712.20" y2="647.00" stroke="#00BF7D" stroke-width="1.1" stroke-opacity="0.6"/>
<text x="1719.3" y="650.3" font-size="17.50">monocyte chemotaxis</text>
<line x1="1698.20" y1="664.10" x2="1712.20" y2="664.10" stroke="#00B0F6" stroke-width="1.1" stroke-opacity="0.6"/>
<text x="1719.3" y="666.9" font-size="17.50">mononuclear cell migration</text>
<line x1="1698.20" y1="680.70" x2="1712.20" y2="680.70" stroke="#E76BF3" stroke-width="1.1" stroke-opacity="0.6"/>
<text x="1719.3" y="683.2" font-size="17.50">myeloid leukocyte migration</text>
<text x="718.7" y="1055.3" font-size="17.50">size</text>
<circle cx="729.2" cy="1070.1" r="3.50" fill="#000"/>
<text x="745.7" y="1073.7" font-size="17.40">1</text>
<circle cx="729.2" cy="1086.9" r="6.20" fill="#000"/>
<text x="745.7" y="1090.4" font-size="17.40">2</text>
<circle cx="729.2" cy="1104.0" r="7.40" fill="#000"/>
<text x="745.7" y="1107.6" font-size="17.40">3</text>
<circle cx="729.2" cy="1123.2" r="8.20" fill="#000"/>
<text x="745.7" y="1125.8" font-size="17.40">4</text>
<circle cx="729.2" cy="1144.2" r="9.00" fill="#000"/>
<text x="745.7" y="1147.3" font-size="17.40">5</text>
<text x="718.7" y="1263.1" font-size="17.50">fold change</text>
<defs><linearGradient id="gC" x1="0" y1="0" x2="0" y2="1"><stop offset="0.0000" stop-color="#ff0000"/><stop offset="0.0470" stop-color="#ff3e22"/><stop offset="0.0940" stop-color="#ff5b3a"/><stop offset="0.1410" stop-color="#ff7352"/><stop offset="0.1880" stop-color="#ff8969"/><stop offset="0.2350" stop-color="#ff9e81"/><stop offset="0.2820" stop-color="#ffb299"/><stop offset="0.3290" stop-color="#ffc6b2"/><stop offset="0.3760" stop-color="#ffd9cb"/><stop offset="0.4230" stop-color="#ffece5"/><stop offset="0.4700" stop-color="#ffffff"/><stop offset="0.5230" stop-color="#f2e7ff"/><stop offset="0.5760" stop-color="#e3d0ff"/><stop offset="0.6290" stop-color="#d4b9ff"/><stop offset="0.6820" stop-color="#c4a2ff"/><stop offset="0.7350" stop-color="#b38bff"/><stop offset="0.7880" stop-color="#a074ff"/><stop offset="0.8410" stop-color="#8a5dff"/><stop offset="0.8940" stop-color="#7145ff"/><stop offset="0.9470" stop-color="#502bff"/><stop offset="1.0000" stop-color="#0000ff"/></linearGradient></defs>
<rect x="718.20" y="1270.70" width="16.70" height="83.10" fill="url(#gC)"/>
<text x="739.7" y="1280.3" font-size="17.40">0.6</text>
<line x1="718.20" y1="1274.30" x2="721.54" y2="1274.30" stroke="#fff" stroke-width="0.8" stroke-opacity="0.6"/>
<line x1="731.56" y1="1274.30" x2="734.90" y2="1274.30" stroke="#fff" stroke-width="0.8" stroke-opacity="0.6"/>
<text x="739.7" y="1299.4" font-size="17.40">0.3</text>
<line x1="718.20" y1="1293.40" x2="721.54" y2="1293.40" stroke="#fff" stroke-width="0.8" stroke-opacity="0.6"/>
<line x1="731.56" y1="1293.40" x2="734.90" y2="1293.40" stroke="#fff" stroke-width="0.8" stroke-opacity="0.6"/>
<text x="739.7" y="1318.0" font-size="17.40">0.0</text>
<line x1="718.20" y1="1312.00" x2="721.54" y2="1312.00" stroke="#fff" stroke-width="0.8" stroke-opacity="0.6"/>
<line x1="731.56" y1="1312.00" x2="734.90" y2="1312.00" stroke="#fff" stroke-width="0.8" stroke-opacity="0.6"/>
<text x="739.7" y="1337.1" font-size="17.40">−0.3</text>
<line x1="718.20" y1="1331.10" x2="721.54" y2="1331.10" stroke="#fff" stroke-width="0.8" stroke-opacity="0.6"/>
<line x1="731.56" y1="1331.10" x2="734.90" y2="1331.10" stroke="#fff" stroke-width="0.8" stroke-opacity="0.6"/>
<text x="739.7" y="1356.2" font-size="17.40">−0.6</text>
<line x1="718.20" y1="1350.20" x2="721.54" y2="1350.20" stroke="#fff" stroke-width="0.8" stroke-opacity="0.6"/>
<line x1="731.56" y1="1350.20" x2="734.90" y2="1350.20" stroke="#fff" stroke-width="0.8" stroke-opacity="0.6"/>
<text x="622.7" y="1434.3" font-size="17.50">category</text>
<line x1="622.70" y1="1446.20" x2="637.00" y2="1446.20" stroke="#F8766D" stroke-width="1.1" stroke-opacity="0.6"/>
<text x="644.7" y="1452.2" font-size="17.50">Bcl3−Bcl10 complex</text>
<line x1="622.70" y1="1462.90" x2="637.00" y2="1462.90" stroke="#A3A500" stroke-width="1.1" stroke-opacity="0.6"/>
<text x="644.7" y="1468.9" font-size="17.50">Bcl3/NF−kappaB2 complex</text>
<line x1="622.70" y1="1479.60" x2="637.00" y2="1479.60" stroke="#00BF7D" stroke-width="1.1" stroke-opacity="0.6"/>
<text x="644.7" y="1485.6" font-size="17.50">endocytic vesicle membrane</text>
<line x1="622.70" y1="1496.40" x2="637.00" y2="1496.40" stroke="#00B0F6" stroke-width="1.1" stroke-opacity="0.6"/>
<text x="644.7" y="1502.3" font-size="17.50">external side of plasma membrane</text>
<line x1="622.70" y1="1513.10" x2="637.00" y2="1513.10" stroke="#E76BF3" stroke-width="1.1" stroke-opacity="0.6"/>
<text x="644.7" y="1519.0" font-size="17.50">interleukin−18 receptor complex</text>
<text x="1775.8" y="1053.0" font-size="17.50">size</text>
<circle cx="1786.7" cy="1068.6" r="4.10" fill="#000"/>
<text x="1803.1" y="1075.1" font-size="17.40">2</text>
<circle cx="1786.7" cy="1085.0" r="6.80" fill="#000"/>
<text x="1803.1" y="1092.0" font-size="17.40">3</text>
<circle cx="1786.7" cy="1103.6" r="7.90" fill="#000"/>
<text x="1803.1" y="1109.8" font-size="17.40">4</text>
<circle cx="1786.7" cy="1123.7" r="8.90" fill="#000"/>
<text x="1803.1" y="1130.9" font-size="17.40">5</text>
<text x="1780.0" y="1232.9" font-size="17.50">fold change</text>
<defs><linearGradient id="gD" x1="0" y1="0" x2="0" y2="1"><stop offset="0.0000" stop-color="#ff0000"/><stop offset="0.0510" stop-color="#ff3e22"/><stop offset="0.1020" stop-color="#ff5b3a"/><stop offset="0.1530" stop-color="#ff7352"/><stop offset="0.2040" stop-color="#ff8969"/><stop offset="0.2550" stop-color="#ff9e81"/><stop offset="0.3060" stop-color="#ffb299"/><stop offset="0.3570" stop-color="#ffc6b2"/><stop offset="0.4080" stop-color="#ffd9cb"/><stop offset="0.4590" stop-color="#ffece5"/><stop offset="0.5100" stop-color="#ffffff"/><stop offset="0.5590" stop-color="#f2e7ff"/><stop offset="0.6080" stop-color="#e3d0ff"/><stop offset="0.6570" stop-color="#d4b9ff"/><stop offset="0.7060" stop-color="#c4a2ff"/><stop offset="0.7550" stop-color="#b38bff"/><stop offset="0.8040" stop-color="#a074ff"/><stop offset="0.8530" stop-color="#8a5dff"/><stop offset="0.9020" stop-color="#7145ff"/><stop offset="0.9510" stop-color="#502bff"/><stop offset="1.0000" stop-color="#0000ff"/></linearGradient></defs>
<rect x="1780.00" y="1240.10" width="16.70" height="83.10" fill="url(#gD)"/>
<text x="1801.1" y="1268.1" font-size="17.40">0.4</text>
<line x1="1780.00" y1="1262.10" x2="1783.34" y2="1262.10" stroke="#fff" stroke-width="0.8" stroke-opacity="0.6"/>
<line x1="1793.36" y1="1262.10" x2="1796.70" y2="1262.10" stroke="#fff" stroke-width="0.8" stroke-opacity="0.6"/>
<text x="1801.1" y="1290.5" font-size="17.40">0.0</text>
<line x1="1780.00" y1="1284.50" x2="1783.34" y2="1284.50" stroke="#fff" stroke-width="0.8" stroke-opacity="0.6"/>
<line x1="1793.36" y1="1284.50" x2="1796.70" y2="1284.50" stroke="#fff" stroke-width="0.8" stroke-opacity="0.6"/>
<text x="1801.1" y="1313.5" font-size="17.40">−0.4</text>
<line x1="1780.00" y1="1307.50" x2="1783.34" y2="1307.50" stroke="#fff" stroke-width="0.8" stroke-opacity="0.6"/>
<line x1="1793.36" y1="1307.50" x2="1796.70" y2="1307.50" stroke="#fff" stroke-width="0.8" stroke-opacity="0.6"/>
<text x="1640.3" y="1448.8" font-size="17.50">category</text>
<line x1="1642.30" y1="1462.90" x2="1656.00" y2="1462.90" stroke="#F8766D" stroke-width="1.1" stroke-opacity="0.6"/>
<text x="1662.7" y="1467.4" font-size="17.50">arachidonic acid binding</text>
<line x1="1642.30" y1="1479.60" x2="1656.00" y2="1479.60" stroke="#A3A500" stroke-width="1.1" stroke-opacity="0.6"/>
<text x="1662.7" y="1484.0" font-size="17.50">cytokine binding</text>
<line x1="1642.30" y1="1496.40" x2="1656.00" y2="1496.40" stroke="#00BF7D" stroke-width="1.1" stroke-opacity="0.6"/>
<text x="1662.7" y="1500.6" font-size="17.50">cytokine receptor activity</text>
<line x1="1642.30" y1="1513.30" x2="1656.00" y2="1513.30" stroke="#00B0F6" stroke-width="1.1" stroke-opacity="0.6"/>
<text x="1662.7" y="1517.5" font-size="17.50">immune receptor activity</text>
<line x1="1642.30" y1="1529.90" x2="1656.00" y2="1529.90" stroke="#E76BF3" stroke-width="1.1" stroke-opacity="0.6"/>
<text x="1662.7" y="1534.1" font-size="17.50">MHC class I protein complex binding</text>
<text x="1779.5" y="1884.2" font-size="17.50">size</text>
<circle cx="1790.2" cy="1900.0" r="3.60" fill="#000"/>
<text x="1806.8" y="1907.2" font-size="17.40">3</text>
<circle cx="1790.2" cy="1917.4" r="6.40" fill="#000"/>
<text x="1806.8" y="1923.8" font-size="17.40">4</text>
<circle cx="1790.2" cy="1934.5" r="7.70" fill="#000"/>
<text x="1806.8" y="1941.1" font-size="17.40">5</text>
<circle cx="1790.2" cy="1953.6" r="8.40" fill="#000"/>
<text x="1806.8" y="1960.0" font-size="17.40">6</text>
<circle cx="1790.2" cy="1974.3" r="9.20" fill="#000"/>
<text x="1806.8" y="1981.2" font-size="17.40">7</text>
<text x="1779.5" y="2065.4" font-size="17.50">fold change</text>
<defs><linearGradient id="gF" x1="0" y1="0" x2="0" y2="1"><stop offset="0.0000" stop-color="#ff0000"/><stop offset="0.0450" stop-color="#ff3e22"/><stop offset="0.0900" stop-color="#ff5b3a"/><stop offset="0.1350" stop-color="#ff7352"/><stop offset="0.1800" stop-color="#ff8969"/><stop offset="0.2250" stop-color="#ff9e81"/><stop offset="0.2700" stop-color="#ffb299"/><stop offset="0.3150" stop-color="#ffc6b2"/><stop offset="0.3600" stop-color="#ffd9cb"/><stop offset="0.4050" stop-color="#ffece5"/><stop offset="0.4500" stop-color="#ffffff"/><stop offset="0.5050" stop-color="#f2e7ff"/><stop offset="0.5600" stop-color="#e3d0ff"/><stop offset="0.6150" stop-color="#d4b9ff"/><stop offset="0.6700" stop-color="#c4a2ff"/><stop offset="0.7250" stop-color="#b38bff"/><stop offset="0.7800" stop-color="#a074ff"/><stop offset="0.8350" stop-color="#8a5dff"/><stop offset="0.8900" stop-color="#7145ff"/><stop offset="0.9450" stop-color="#502bff"/><stop offset="1.0000" stop-color="#0000ff"/></linearGradient></defs>
<rect x="1783.30" y="2073.80" width="17.10" height="82.90" fill="url(#gF)"/>
<text x="1809.3" y="2099.8" font-size="17.40">0.4</text>
<line x1="1783.30" y1="2093.80" x2="1786.72" y2="2093.80" stroke="#fff" stroke-width="0.8" stroke-opacity="0.6"/>
<line x1="1796.98" y1="2093.80" x2="1800.40" y2="2093.80" stroke="#fff" stroke-width="0.8" stroke-opacity="0.6"/>
<text x="1809.3" y="2123.3" font-size="17.40">0.0</text>
<line x1="1783.30" y1="2117.30" x2="1786.72" y2="2117.30" stroke="#fff" stroke-width="0.8" stroke-opacity="0.6"/>
<line x1="1796.98" y1="2117.30" x2="1800.40" y2="2117.30" stroke="#fff" stroke-width="0.8" stroke-opacity="0.6"/>
<text x="1809.3" y="2147.0" font-size="17.40">−0.4</text>
<line x1="1783.30" y1="2141.00" x2="1786.72" y2="2141.00" stroke="#fff" stroke-width="0.8" stroke-opacity="0.6"/>
<line x1="1796.98" y1="2141.00" x2="1800.40" y2="2141.00" stroke="#fff" stroke-width="0.8" stroke-opacity="0.6"/>
<text x="1543.3" y="2307.0" font-size="17.50">category</text>
<line x1="1542.00" y1="2320.50" x2="1555.50" y2="2320.50" stroke="#F8766D" stroke-width="1.1" stroke-opacity="0.6"/>
<text x="1565.0" y="2325.7" font-size="17.50">Antigen processing and presentation</text>
<line x1="1542.00" y1="2337.00" x2="1555.50" y2="2337.00" stroke="#A3A500" stroke-width="1.1" stroke-opacity="0.6"/>
<text x="1565.0" y="2342.2" font-size="17.50">Cytokine−cytokine receptor interaction</text>
<line x1="1542.00" y1="2354.10" x2="1555.50" y2="2354.10" stroke="#00BF7D" stroke-width="1.1" stroke-opacity="0.6"/>
<text x="1565.0" y="2359.0" font-size="17.50">Hematopoietic cell lineage</text>
<line x1="1542.00" y1="2371.00" x2="1555.50" y2="2371.00" stroke="#00B0F6" stroke-width="1.1" stroke-opacity="0.6"/>
<text x="1565.0" y="2375.9" font-size="17.50">Natural killer cell mediated cytotoxicity</text>
<line x1="1542.00" y1="2387.60" x2="1555.50" y2="2387.60" stroke="#E76BF3" stroke-width="1.1" stroke-opacity="0.6"/>
<text x="1565.0" y="2392.2" font-size="17.50">Viral protein interaction with cytokine and cytokine receptor</text></svg>
</body></html>
